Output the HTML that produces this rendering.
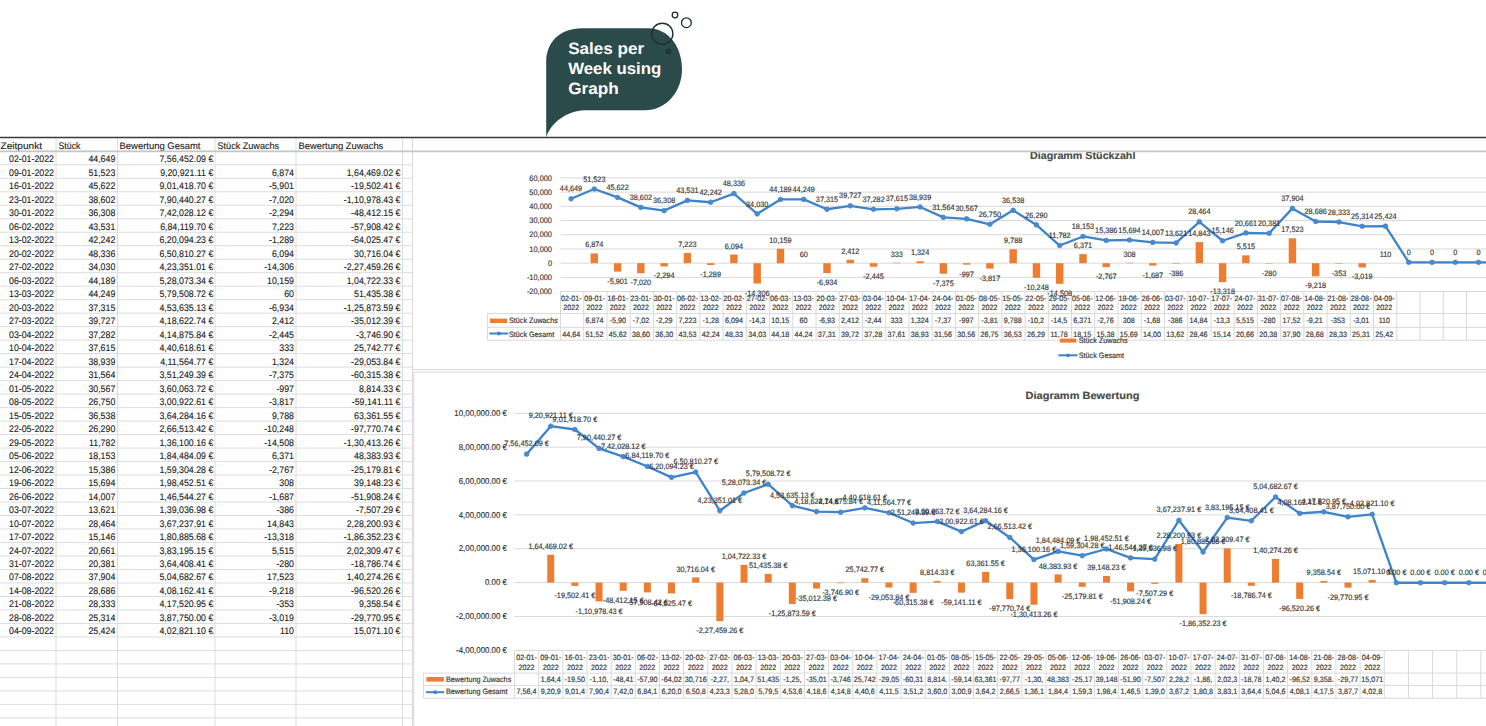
<!DOCTYPE html>
<html><head><meta charset="utf-8"><title>Sales per Week using Graph</title>
<style>
html,body{margin:0;padding:0;background:#fff;}
body{width:1486px;height:726px;overflow:hidden;}
svg{display:block;font-family:"Liberation Sans", sans-serif;text-rendering:geometricPrecision;}
</style></head><body>
<svg width="1486" height="726" viewBox="0 0 1486 726">
<rect x="0" y="0" width="1486" height="726" fill="#ffffff"/>
<line x1="0.00" y1="151.30" x2="412.50" y2="151.30" stroke="#dcdcdc" stroke-width="1.00"/>
<line x1="0.00" y1="164.79" x2="412.50" y2="164.79" stroke="#dcdcdc" stroke-width="1.00"/>
<line x1="0.00" y1="178.28" x2="412.50" y2="178.28" stroke="#dcdcdc" stroke-width="1.00"/>
<line x1="0.00" y1="191.77" x2="412.50" y2="191.77" stroke="#dcdcdc" stroke-width="1.00"/>
<line x1="0.00" y1="205.26" x2="412.50" y2="205.26" stroke="#dcdcdc" stroke-width="1.00"/>
<line x1="0.00" y1="218.75" x2="412.50" y2="218.75" stroke="#dcdcdc" stroke-width="1.00"/>
<line x1="0.00" y1="232.24" x2="412.50" y2="232.24" stroke="#dcdcdc" stroke-width="1.00"/>
<line x1="0.00" y1="245.73" x2="412.50" y2="245.73" stroke="#dcdcdc" stroke-width="1.00"/>
<line x1="0.00" y1="259.22" x2="412.50" y2="259.22" stroke="#dcdcdc" stroke-width="1.00"/>
<line x1="0.00" y1="272.71" x2="412.50" y2="272.71" stroke="#dcdcdc" stroke-width="1.00"/>
<line x1="0.00" y1="286.20" x2="412.50" y2="286.20" stroke="#dcdcdc" stroke-width="1.00"/>
<line x1="0.00" y1="299.69" x2="412.50" y2="299.69" stroke="#dcdcdc" stroke-width="1.00"/>
<line x1="0.00" y1="313.18" x2="412.50" y2="313.18" stroke="#dcdcdc" stroke-width="1.00"/>
<line x1="0.00" y1="326.67" x2="412.50" y2="326.67" stroke="#dcdcdc" stroke-width="1.00"/>
<line x1="0.00" y1="340.16" x2="412.50" y2="340.16" stroke="#dcdcdc" stroke-width="1.00"/>
<line x1="0.00" y1="353.65" x2="412.50" y2="353.65" stroke="#dcdcdc" stroke-width="1.00"/>
<line x1="0.00" y1="367.14" x2="412.50" y2="367.14" stroke="#dcdcdc" stroke-width="1.00"/>
<line x1="0.00" y1="380.63" x2="412.50" y2="380.63" stroke="#dcdcdc" stroke-width="1.00"/>
<line x1="0.00" y1="394.12" x2="412.50" y2="394.12" stroke="#dcdcdc" stroke-width="1.00"/>
<line x1="0.00" y1="407.61" x2="412.50" y2="407.61" stroke="#dcdcdc" stroke-width="1.00"/>
<line x1="0.00" y1="421.10" x2="412.50" y2="421.10" stroke="#dcdcdc" stroke-width="1.00"/>
<line x1="0.00" y1="434.59" x2="412.50" y2="434.59" stroke="#dcdcdc" stroke-width="1.00"/>
<line x1="0.00" y1="448.08" x2="412.50" y2="448.08" stroke="#dcdcdc" stroke-width="1.00"/>
<line x1="0.00" y1="461.57" x2="412.50" y2="461.57" stroke="#dcdcdc" stroke-width="1.00"/>
<line x1="0.00" y1="475.06" x2="412.50" y2="475.06" stroke="#dcdcdc" stroke-width="1.00"/>
<line x1="0.00" y1="488.55" x2="412.50" y2="488.55" stroke="#dcdcdc" stroke-width="1.00"/>
<line x1="0.00" y1="502.04" x2="412.50" y2="502.04" stroke="#dcdcdc" stroke-width="1.00"/>
<line x1="0.00" y1="515.53" x2="412.50" y2="515.53" stroke="#dcdcdc" stroke-width="1.00"/>
<line x1="0.00" y1="529.02" x2="412.50" y2="529.02" stroke="#dcdcdc" stroke-width="1.00"/>
<line x1="0.00" y1="542.51" x2="412.50" y2="542.51" stroke="#dcdcdc" stroke-width="1.00"/>
<line x1="0.00" y1="556.00" x2="412.50" y2="556.00" stroke="#dcdcdc" stroke-width="1.00"/>
<line x1="0.00" y1="569.49" x2="412.50" y2="569.49" stroke="#dcdcdc" stroke-width="1.00"/>
<line x1="0.00" y1="582.98" x2="412.50" y2="582.98" stroke="#dcdcdc" stroke-width="1.00"/>
<line x1="0.00" y1="596.47" x2="412.50" y2="596.47" stroke="#dcdcdc" stroke-width="1.00"/>
<line x1="0.00" y1="609.96" x2="412.50" y2="609.96" stroke="#dcdcdc" stroke-width="1.00"/>
<line x1="0.00" y1="623.45" x2="412.50" y2="623.45" stroke="#dcdcdc" stroke-width="1.00"/>
<line x1="0.00" y1="636.94" x2="412.50" y2="636.94" stroke="#dcdcdc" stroke-width="1.00"/>
<line x1="0.00" y1="650.43" x2="412.50" y2="650.43" stroke="#dcdcdc" stroke-width="1.00"/>
<line x1="0.00" y1="663.92" x2="412.50" y2="663.92" stroke="#dcdcdc" stroke-width="1.00"/>
<line x1="0.00" y1="677.41" x2="412.50" y2="677.41" stroke="#dcdcdc" stroke-width="1.00"/>
<line x1="0.00" y1="690.90" x2="412.50" y2="690.90" stroke="#dcdcdc" stroke-width="1.00"/>
<line x1="0.00" y1="704.39" x2="412.50" y2="704.39" stroke="#dcdcdc" stroke-width="1.00"/>
<line x1="0.00" y1="717.88" x2="412.50" y2="717.88" stroke="#dcdcdc" stroke-width="1.00"/>
<line x1="56.00" y1="137.50" x2="56.00" y2="726.00" stroke="#dcdcdc" stroke-width="1.00"/>
<line x1="117.50" y1="137.50" x2="117.50" y2="726.00" stroke="#dcdcdc" stroke-width="1.00"/>
<line x1="215.00" y1="137.50" x2="215.00" y2="726.00" stroke="#dcdcdc" stroke-width="1.00"/>
<line x1="296.00" y1="137.50" x2="296.00" y2="726.00" stroke="#dcdcdc" stroke-width="1.00"/>
<line x1="402.50" y1="137.50" x2="402.50" y2="726.00" stroke="#dcdcdc" stroke-width="1.00"/>
<line x1="412.50" y1="137.50" x2="412.50" y2="726.00" stroke="#dcdcdc" stroke-width="1.00"/>
<text x="0.50" y="148.60" font-size="9.50" fill="#1c1c1c" text-anchor="start" stroke="#1c1c1c" stroke-width="0.12" textLength="41.50" lengthAdjust="spacingAndGlyphs">Zeitpunkt</text>
<text x="58.50" y="148.60" font-size="9.50" fill="#1c1c1c" text-anchor="start" stroke="#1c1c1c" stroke-width="0.12" textLength="22.00" lengthAdjust="spacingAndGlyphs">Stück</text>
<text x="119.50" y="148.60" font-size="9.50" fill="#1c1c1c" text-anchor="start" stroke="#1c1c1c" stroke-width="0.12" textLength="81.00" lengthAdjust="spacingAndGlyphs">Bewertung Gesamt</text>
<text x="217.50" y="148.60" font-size="9.50" fill="#1c1c1c" text-anchor="start" stroke="#1c1c1c" stroke-width="0.12" textLength="61.60" lengthAdjust="spacingAndGlyphs">Stück Zuwachs</text>
<text x="298.50" y="148.60" font-size="9.50" fill="#1c1c1c" text-anchor="start" stroke="#1c1c1c" stroke-width="0.12" textLength="84.80" lengthAdjust="spacingAndGlyphs">Bewertung Zuwachs</text>
<text x="54.00" y="162.30" font-size="9.50" fill="#1c1c1c" text-anchor="end" stroke="#1c1c1c" stroke-width="0.12" textLength="45.01" lengthAdjust="spacingAndGlyphs">02-01-2022</text>
<text x="115.30" y="162.30" font-size="9.50" fill="#1c1c1c" text-anchor="end" stroke="#1c1c1c" stroke-width="0.12" textLength="26.92" lengthAdjust="spacingAndGlyphs">44,649</text>
<text x="213.30" y="162.30" font-size="9.50" fill="#1c1c1c" text-anchor="end" stroke="#1c1c1c" stroke-width="0.12" textLength="53.83" lengthAdjust="spacingAndGlyphs">7,56,452.09 €</text>
<text x="54.00" y="175.79" font-size="9.50" fill="#1c1c1c" text-anchor="end" stroke="#1c1c1c" stroke-width="0.12" textLength="45.01" lengthAdjust="spacingAndGlyphs">09-01-2022</text>
<text x="115.30" y="175.79" font-size="9.50" fill="#1c1c1c" text-anchor="end" stroke="#1c1c1c" stroke-width="0.12" textLength="26.92" lengthAdjust="spacingAndGlyphs">51,523</text>
<text x="213.30" y="175.79" font-size="9.50" fill="#1c1c1c" text-anchor="end" stroke="#1c1c1c" stroke-width="0.12" textLength="53.17" lengthAdjust="spacingAndGlyphs">9,20,921.11 €</text>
<text x="294.00" y="175.79" font-size="9.50" fill="#1c1c1c" text-anchor="end" stroke="#1c1c1c" stroke-width="0.12" textLength="22.02" lengthAdjust="spacingAndGlyphs">6,874</text>
<text x="400.50" y="175.79" font-size="9.50" fill="#1c1c1c" text-anchor="end" stroke="#1c1c1c" stroke-width="0.12" textLength="53.83" lengthAdjust="spacingAndGlyphs">1,64,469.02 €</text>
<text x="54.00" y="189.28" font-size="9.50" fill="#1c1c1c" text-anchor="end" stroke="#1c1c1c" stroke-width="0.12" textLength="45.01" lengthAdjust="spacingAndGlyphs">16-01-2022</text>
<text x="115.30" y="189.28" font-size="9.50" fill="#1c1c1c" text-anchor="end" stroke="#1c1c1c" stroke-width="0.12" textLength="26.92" lengthAdjust="spacingAndGlyphs">45,622</text>
<text x="213.30" y="189.28" font-size="9.50" fill="#1c1c1c" text-anchor="end" stroke="#1c1c1c" stroke-width="0.12" textLength="53.83" lengthAdjust="spacingAndGlyphs">9,01,418.70 €</text>
<text x="294.00" y="189.28" font-size="9.50" fill="#1c1c1c" text-anchor="end" stroke="#1c1c1c" stroke-width="0.12" textLength="24.95" lengthAdjust="spacingAndGlyphs">-5,901</text>
<text x="400.50" y="189.28" font-size="9.50" fill="#1c1c1c" text-anchor="end" stroke="#1c1c1c" stroke-width="0.12" textLength="49.42" lengthAdjust="spacingAndGlyphs">-19,502.41 €</text>
<text x="54.00" y="202.77" font-size="9.50" fill="#1c1c1c" text-anchor="end" stroke="#1c1c1c" stroke-width="0.12" textLength="45.01" lengthAdjust="spacingAndGlyphs">23-01-2022</text>
<text x="115.30" y="202.77" font-size="9.50" fill="#1c1c1c" text-anchor="end" stroke="#1c1c1c" stroke-width="0.12" textLength="26.92" lengthAdjust="spacingAndGlyphs">38,602</text>
<text x="213.30" y="202.77" font-size="9.50" fill="#1c1c1c" text-anchor="end" stroke="#1c1c1c" stroke-width="0.12" textLength="53.83" lengthAdjust="spacingAndGlyphs">7,90,440.27 €</text>
<text x="294.00" y="202.77" font-size="9.50" fill="#1c1c1c" text-anchor="end" stroke="#1c1c1c" stroke-width="0.12" textLength="24.95" lengthAdjust="spacingAndGlyphs">-7,020</text>
<text x="400.50" y="202.77" font-size="9.50" fill="#1c1c1c" text-anchor="end" stroke="#1c1c1c" stroke-width="0.12" textLength="56.76" lengthAdjust="spacingAndGlyphs">-1,10,978.43 €</text>
<text x="54.00" y="216.26" font-size="9.50" fill="#1c1c1c" text-anchor="end" stroke="#1c1c1c" stroke-width="0.12" textLength="45.01" lengthAdjust="spacingAndGlyphs">30-01-2022</text>
<text x="115.30" y="216.26" font-size="9.50" fill="#1c1c1c" text-anchor="end" stroke="#1c1c1c" stroke-width="0.12" textLength="26.92" lengthAdjust="spacingAndGlyphs">36,308</text>
<text x="213.30" y="216.26" font-size="9.50" fill="#1c1c1c" text-anchor="end" stroke="#1c1c1c" stroke-width="0.12" textLength="53.83" lengthAdjust="spacingAndGlyphs">7,42,028.12 €</text>
<text x="294.00" y="216.26" font-size="9.50" fill="#1c1c1c" text-anchor="end" stroke="#1c1c1c" stroke-width="0.12" textLength="24.95" lengthAdjust="spacingAndGlyphs">-2,294</text>
<text x="400.50" y="216.26" font-size="9.50" fill="#1c1c1c" text-anchor="end" stroke="#1c1c1c" stroke-width="0.12" textLength="49.42" lengthAdjust="spacingAndGlyphs">-48,412.15 €</text>
<text x="54.00" y="229.75" font-size="9.50" fill="#1c1c1c" text-anchor="end" stroke="#1c1c1c" stroke-width="0.12" textLength="45.01" lengthAdjust="spacingAndGlyphs">06-02-2022</text>
<text x="115.30" y="229.75" font-size="9.50" fill="#1c1c1c" text-anchor="end" stroke="#1c1c1c" stroke-width="0.12" textLength="26.92" lengthAdjust="spacingAndGlyphs">43,531</text>
<text x="213.30" y="229.75" font-size="9.50" fill="#1c1c1c" text-anchor="end" stroke="#1c1c1c" stroke-width="0.12" textLength="53.17" lengthAdjust="spacingAndGlyphs">6,84,119.70 €</text>
<text x="294.00" y="229.75" font-size="9.50" fill="#1c1c1c" text-anchor="end" stroke="#1c1c1c" stroke-width="0.12" textLength="22.02" lengthAdjust="spacingAndGlyphs">7,223</text>
<text x="400.50" y="229.75" font-size="9.50" fill="#1c1c1c" text-anchor="end" stroke="#1c1c1c" stroke-width="0.12" textLength="49.42" lengthAdjust="spacingAndGlyphs">-57,908.42 €</text>
<text x="54.00" y="243.24" font-size="9.50" fill="#1c1c1c" text-anchor="end" stroke="#1c1c1c" stroke-width="0.12" textLength="45.01" lengthAdjust="spacingAndGlyphs">13-02-2022</text>
<text x="115.30" y="243.24" font-size="9.50" fill="#1c1c1c" text-anchor="end" stroke="#1c1c1c" stroke-width="0.12" textLength="26.92" lengthAdjust="spacingAndGlyphs">42,242</text>
<text x="213.30" y="243.24" font-size="9.50" fill="#1c1c1c" text-anchor="end" stroke="#1c1c1c" stroke-width="0.12" textLength="53.83" lengthAdjust="spacingAndGlyphs">6,20,094.23 €</text>
<text x="294.00" y="243.24" font-size="9.50" fill="#1c1c1c" text-anchor="end" stroke="#1c1c1c" stroke-width="0.12" textLength="24.95" lengthAdjust="spacingAndGlyphs">-1,289</text>
<text x="400.50" y="243.24" font-size="9.50" fill="#1c1c1c" text-anchor="end" stroke="#1c1c1c" stroke-width="0.12" textLength="49.42" lengthAdjust="spacingAndGlyphs">-64,025.47 €</text>
<text x="54.00" y="256.73" font-size="9.50" fill="#1c1c1c" text-anchor="end" stroke="#1c1c1c" stroke-width="0.12" textLength="45.01" lengthAdjust="spacingAndGlyphs">20-02-2022</text>
<text x="115.30" y="256.73" font-size="9.50" fill="#1c1c1c" text-anchor="end" stroke="#1c1c1c" stroke-width="0.12" textLength="26.92" lengthAdjust="spacingAndGlyphs">48,336</text>
<text x="213.30" y="256.73" font-size="9.50" fill="#1c1c1c" text-anchor="end" stroke="#1c1c1c" stroke-width="0.12" textLength="53.83" lengthAdjust="spacingAndGlyphs">6,50,810.27 €</text>
<text x="294.00" y="256.73" font-size="9.50" fill="#1c1c1c" text-anchor="end" stroke="#1c1c1c" stroke-width="0.12" textLength="22.02" lengthAdjust="spacingAndGlyphs">6,094</text>
<text x="400.50" y="256.73" font-size="9.50" fill="#1c1c1c" text-anchor="end" stroke="#1c1c1c" stroke-width="0.12" textLength="46.49" lengthAdjust="spacingAndGlyphs">30,716.04 €</text>
<text x="54.00" y="270.22" font-size="9.50" fill="#1c1c1c" text-anchor="end" stroke="#1c1c1c" stroke-width="0.12" textLength="45.01" lengthAdjust="spacingAndGlyphs">27-02-2022</text>
<text x="115.30" y="270.22" font-size="9.50" fill="#1c1c1c" text-anchor="end" stroke="#1c1c1c" stroke-width="0.12" textLength="26.92" lengthAdjust="spacingAndGlyphs">34,030</text>
<text x="213.30" y="270.22" font-size="9.50" fill="#1c1c1c" text-anchor="end" stroke="#1c1c1c" stroke-width="0.12" textLength="53.83" lengthAdjust="spacingAndGlyphs">4,23,351.01 €</text>
<text x="294.00" y="270.22" font-size="9.50" fill="#1c1c1c" text-anchor="end" stroke="#1c1c1c" stroke-width="0.12" textLength="29.85" lengthAdjust="spacingAndGlyphs">-14,306</text>
<text x="400.50" y="270.22" font-size="9.50" fill="#1c1c1c" text-anchor="end" stroke="#1c1c1c" stroke-width="0.12" textLength="56.76" lengthAdjust="spacingAndGlyphs">-2,27,459.26 €</text>
<text x="54.00" y="283.71" font-size="9.50" fill="#1c1c1c" text-anchor="end" stroke="#1c1c1c" stroke-width="0.12" textLength="45.01" lengthAdjust="spacingAndGlyphs">06-03-2022</text>
<text x="115.30" y="283.71" font-size="9.50" fill="#1c1c1c" text-anchor="end" stroke="#1c1c1c" stroke-width="0.12" textLength="26.92" lengthAdjust="spacingAndGlyphs">44,189</text>
<text x="213.30" y="283.71" font-size="9.50" fill="#1c1c1c" text-anchor="end" stroke="#1c1c1c" stroke-width="0.12" textLength="53.83" lengthAdjust="spacingAndGlyphs">5,28,073.34 €</text>
<text x="294.00" y="283.71" font-size="9.50" fill="#1c1c1c" text-anchor="end" stroke="#1c1c1c" stroke-width="0.12" textLength="26.92" lengthAdjust="spacingAndGlyphs">10,159</text>
<text x="400.50" y="283.71" font-size="9.50" fill="#1c1c1c" text-anchor="end" stroke="#1c1c1c" stroke-width="0.12" textLength="53.83" lengthAdjust="spacingAndGlyphs">1,04,722.33 €</text>
<text x="54.00" y="297.20" font-size="9.50" fill="#1c1c1c" text-anchor="end" stroke="#1c1c1c" stroke-width="0.12" textLength="45.01" lengthAdjust="spacingAndGlyphs">13-03-2022</text>
<text x="115.30" y="297.20" font-size="9.50" fill="#1c1c1c" text-anchor="end" stroke="#1c1c1c" stroke-width="0.12" textLength="26.92" lengthAdjust="spacingAndGlyphs">44,249</text>
<text x="213.30" y="297.20" font-size="9.50" fill="#1c1c1c" text-anchor="end" stroke="#1c1c1c" stroke-width="0.12" textLength="53.83" lengthAdjust="spacingAndGlyphs">5,79,508.72 €</text>
<text x="294.00" y="297.20" font-size="9.50" fill="#1c1c1c" text-anchor="end" stroke="#1c1c1c" stroke-width="0.12" textLength="9.79" lengthAdjust="spacingAndGlyphs">60</text>
<text x="400.50" y="297.20" font-size="9.50" fill="#1c1c1c" text-anchor="end" stroke="#1c1c1c" stroke-width="0.12" textLength="46.49" lengthAdjust="spacingAndGlyphs">51,435.38 €</text>
<text x="54.00" y="310.69" font-size="9.50" fill="#1c1c1c" text-anchor="end" stroke="#1c1c1c" stroke-width="0.12" textLength="45.01" lengthAdjust="spacingAndGlyphs">20-03-2022</text>
<text x="115.30" y="310.69" font-size="9.50" fill="#1c1c1c" text-anchor="end" stroke="#1c1c1c" stroke-width="0.12" textLength="26.92" lengthAdjust="spacingAndGlyphs">37,315</text>
<text x="213.30" y="310.69" font-size="9.50" fill="#1c1c1c" text-anchor="end" stroke="#1c1c1c" stroke-width="0.12" textLength="53.83" lengthAdjust="spacingAndGlyphs">4,53,635.13 €</text>
<text x="294.00" y="310.69" font-size="9.50" fill="#1c1c1c" text-anchor="end" stroke="#1c1c1c" stroke-width="0.12" textLength="24.95" lengthAdjust="spacingAndGlyphs">-6,934</text>
<text x="400.50" y="310.69" font-size="9.50" fill="#1c1c1c" text-anchor="end" stroke="#1c1c1c" stroke-width="0.12" textLength="56.76" lengthAdjust="spacingAndGlyphs">-1,25,873.59 €</text>
<text x="54.00" y="324.18" font-size="9.50" fill="#1c1c1c" text-anchor="end" stroke="#1c1c1c" stroke-width="0.12" textLength="45.01" lengthAdjust="spacingAndGlyphs">27-03-2022</text>
<text x="115.30" y="324.18" font-size="9.50" fill="#1c1c1c" text-anchor="end" stroke="#1c1c1c" stroke-width="0.12" textLength="26.92" lengthAdjust="spacingAndGlyphs">39,727</text>
<text x="213.30" y="324.18" font-size="9.50" fill="#1c1c1c" text-anchor="end" stroke="#1c1c1c" stroke-width="0.12" textLength="53.83" lengthAdjust="spacingAndGlyphs">4,18,622.74 €</text>
<text x="294.00" y="324.18" font-size="9.50" fill="#1c1c1c" text-anchor="end" stroke="#1c1c1c" stroke-width="0.12" textLength="22.02" lengthAdjust="spacingAndGlyphs">2,412</text>
<text x="400.50" y="324.18" font-size="9.50" fill="#1c1c1c" text-anchor="end" stroke="#1c1c1c" stroke-width="0.12" textLength="49.42" lengthAdjust="spacingAndGlyphs">-35,012.39 €</text>
<text x="54.00" y="337.67" font-size="9.50" fill="#1c1c1c" text-anchor="end" stroke="#1c1c1c" stroke-width="0.12" textLength="45.01" lengthAdjust="spacingAndGlyphs">03-04-2022</text>
<text x="115.30" y="337.67" font-size="9.50" fill="#1c1c1c" text-anchor="end" stroke="#1c1c1c" stroke-width="0.12" textLength="26.92" lengthAdjust="spacingAndGlyphs">37,282</text>
<text x="213.30" y="337.67" font-size="9.50" fill="#1c1c1c" text-anchor="end" stroke="#1c1c1c" stroke-width="0.12" textLength="53.83" lengthAdjust="spacingAndGlyphs">4,14,875.84 €</text>
<text x="294.00" y="337.67" font-size="9.50" fill="#1c1c1c" text-anchor="end" stroke="#1c1c1c" stroke-width="0.12" textLength="24.95" lengthAdjust="spacingAndGlyphs">-2,445</text>
<text x="400.50" y="337.67" font-size="9.50" fill="#1c1c1c" text-anchor="end" stroke="#1c1c1c" stroke-width="0.12" textLength="44.52" lengthAdjust="spacingAndGlyphs">-3,746.90 €</text>
<text x="54.00" y="351.16" font-size="9.50" fill="#1c1c1c" text-anchor="end" stroke="#1c1c1c" stroke-width="0.12" textLength="45.01" lengthAdjust="spacingAndGlyphs">10-04-2022</text>
<text x="115.30" y="351.16" font-size="9.50" fill="#1c1c1c" text-anchor="end" stroke="#1c1c1c" stroke-width="0.12" textLength="26.92" lengthAdjust="spacingAndGlyphs">37,615</text>
<text x="213.30" y="351.16" font-size="9.50" fill="#1c1c1c" text-anchor="end" stroke="#1c1c1c" stroke-width="0.12" textLength="53.83" lengthAdjust="spacingAndGlyphs">4,40,618.61 €</text>
<text x="294.00" y="351.16" font-size="9.50" fill="#1c1c1c" text-anchor="end" stroke="#1c1c1c" stroke-width="0.12" textLength="14.68" lengthAdjust="spacingAndGlyphs">333</text>
<text x="400.50" y="351.16" font-size="9.50" fill="#1c1c1c" text-anchor="end" stroke="#1c1c1c" stroke-width="0.12" textLength="46.49" lengthAdjust="spacingAndGlyphs">25,742.77 €</text>
<text x="54.00" y="364.65" font-size="9.50" fill="#1c1c1c" text-anchor="end" stroke="#1c1c1c" stroke-width="0.12" textLength="45.01" lengthAdjust="spacingAndGlyphs">17-04-2022</text>
<text x="115.30" y="364.65" font-size="9.50" fill="#1c1c1c" text-anchor="end" stroke="#1c1c1c" stroke-width="0.12" textLength="26.92" lengthAdjust="spacingAndGlyphs">38,939</text>
<text x="213.30" y="364.65" font-size="9.50" fill="#1c1c1c" text-anchor="end" stroke="#1c1c1c" stroke-width="0.12" textLength="53.17" lengthAdjust="spacingAndGlyphs">4,11,564.77 €</text>
<text x="294.00" y="364.65" font-size="9.50" fill="#1c1c1c" text-anchor="end" stroke="#1c1c1c" stroke-width="0.12" textLength="22.02" lengthAdjust="spacingAndGlyphs">1,324</text>
<text x="400.50" y="364.65" font-size="9.50" fill="#1c1c1c" text-anchor="end" stroke="#1c1c1c" stroke-width="0.12" textLength="49.42" lengthAdjust="spacingAndGlyphs">-29,053.84 €</text>
<text x="54.00" y="378.14" font-size="9.50" fill="#1c1c1c" text-anchor="end" stroke="#1c1c1c" stroke-width="0.12" textLength="45.01" lengthAdjust="spacingAndGlyphs">24-04-2022</text>
<text x="115.30" y="378.14" font-size="9.50" fill="#1c1c1c" text-anchor="end" stroke="#1c1c1c" stroke-width="0.12" textLength="26.92" lengthAdjust="spacingAndGlyphs">31,564</text>
<text x="213.30" y="378.14" font-size="9.50" fill="#1c1c1c" text-anchor="end" stroke="#1c1c1c" stroke-width="0.12" textLength="53.83" lengthAdjust="spacingAndGlyphs">3,51,249.39 €</text>
<text x="294.00" y="378.14" font-size="9.50" fill="#1c1c1c" text-anchor="end" stroke="#1c1c1c" stroke-width="0.12" textLength="24.95" lengthAdjust="spacingAndGlyphs">-7,375</text>
<text x="400.50" y="378.14" font-size="9.50" fill="#1c1c1c" text-anchor="end" stroke="#1c1c1c" stroke-width="0.12" textLength="49.42" lengthAdjust="spacingAndGlyphs">-60,315.38 €</text>
<text x="54.00" y="391.63" font-size="9.50" fill="#1c1c1c" text-anchor="end" stroke="#1c1c1c" stroke-width="0.12" textLength="45.01" lengthAdjust="spacingAndGlyphs">01-05-2022</text>
<text x="115.30" y="391.63" font-size="9.50" fill="#1c1c1c" text-anchor="end" stroke="#1c1c1c" stroke-width="0.12" textLength="26.92" lengthAdjust="spacingAndGlyphs">30,567</text>
<text x="213.30" y="391.63" font-size="9.50" fill="#1c1c1c" text-anchor="end" stroke="#1c1c1c" stroke-width="0.12" textLength="53.83" lengthAdjust="spacingAndGlyphs">3,60,063.72 €</text>
<text x="294.00" y="391.63" font-size="9.50" fill="#1c1c1c" text-anchor="end" stroke="#1c1c1c" stroke-width="0.12" textLength="17.61" lengthAdjust="spacingAndGlyphs">-997</text>
<text x="400.50" y="391.63" font-size="9.50" fill="#1c1c1c" text-anchor="end" stroke="#1c1c1c" stroke-width="0.12" textLength="41.59" lengthAdjust="spacingAndGlyphs">8,814.33 €</text>
<text x="54.00" y="405.12" font-size="9.50" fill="#1c1c1c" text-anchor="end" stroke="#1c1c1c" stroke-width="0.12" textLength="45.01" lengthAdjust="spacingAndGlyphs">08-05-2022</text>
<text x="115.30" y="405.12" font-size="9.50" fill="#1c1c1c" text-anchor="end" stroke="#1c1c1c" stroke-width="0.12" textLength="26.92" lengthAdjust="spacingAndGlyphs">26,750</text>
<text x="213.30" y="405.12" font-size="9.50" fill="#1c1c1c" text-anchor="end" stroke="#1c1c1c" stroke-width="0.12" textLength="53.83" lengthAdjust="spacingAndGlyphs">3,00,922.61 €</text>
<text x="294.00" y="405.12" font-size="9.50" fill="#1c1c1c" text-anchor="end" stroke="#1c1c1c" stroke-width="0.12" textLength="24.95" lengthAdjust="spacingAndGlyphs">-3,817</text>
<text x="400.50" y="405.12" font-size="9.50" fill="#1c1c1c" text-anchor="end" stroke="#1c1c1c" stroke-width="0.12" textLength="48.77" lengthAdjust="spacingAndGlyphs">-59,141.11 €</text>
<text x="54.00" y="418.61" font-size="9.50" fill="#1c1c1c" text-anchor="end" stroke="#1c1c1c" stroke-width="0.12" textLength="45.01" lengthAdjust="spacingAndGlyphs">15-05-2022</text>
<text x="115.30" y="418.61" font-size="9.50" fill="#1c1c1c" text-anchor="end" stroke="#1c1c1c" stroke-width="0.12" textLength="26.92" lengthAdjust="spacingAndGlyphs">36,538</text>
<text x="213.30" y="418.61" font-size="9.50" fill="#1c1c1c" text-anchor="end" stroke="#1c1c1c" stroke-width="0.12" textLength="53.83" lengthAdjust="spacingAndGlyphs">3,64,284.16 €</text>
<text x="294.00" y="418.61" font-size="9.50" fill="#1c1c1c" text-anchor="end" stroke="#1c1c1c" stroke-width="0.12" textLength="22.02" lengthAdjust="spacingAndGlyphs">9,788</text>
<text x="400.50" y="418.61" font-size="9.50" fill="#1c1c1c" text-anchor="end" stroke="#1c1c1c" stroke-width="0.12" textLength="46.49" lengthAdjust="spacingAndGlyphs">63,361.55 €</text>
<text x="54.00" y="432.10" font-size="9.50" fill="#1c1c1c" text-anchor="end" stroke="#1c1c1c" stroke-width="0.12" textLength="45.01" lengthAdjust="spacingAndGlyphs">22-05-2022</text>
<text x="115.30" y="432.10" font-size="9.50" fill="#1c1c1c" text-anchor="end" stroke="#1c1c1c" stroke-width="0.12" textLength="26.92" lengthAdjust="spacingAndGlyphs">26,290</text>
<text x="213.30" y="432.10" font-size="9.50" fill="#1c1c1c" text-anchor="end" stroke="#1c1c1c" stroke-width="0.12" textLength="53.83" lengthAdjust="spacingAndGlyphs">2,66,513.42 €</text>
<text x="294.00" y="432.10" font-size="9.50" fill="#1c1c1c" text-anchor="end" stroke="#1c1c1c" stroke-width="0.12" textLength="29.85" lengthAdjust="spacingAndGlyphs">-10,248</text>
<text x="400.50" y="432.10" font-size="9.50" fill="#1c1c1c" text-anchor="end" stroke="#1c1c1c" stroke-width="0.12" textLength="49.42" lengthAdjust="spacingAndGlyphs">-97,770.74 €</text>
<text x="54.00" y="445.59" font-size="9.50" fill="#1c1c1c" text-anchor="end" stroke="#1c1c1c" stroke-width="0.12" textLength="45.01" lengthAdjust="spacingAndGlyphs">29-05-2022</text>
<text x="115.30" y="445.59" font-size="9.50" fill="#1c1c1c" text-anchor="end" stroke="#1c1c1c" stroke-width="0.12" textLength="26.26" lengthAdjust="spacingAndGlyphs">11,782</text>
<text x="213.30" y="445.59" font-size="9.50" fill="#1c1c1c" text-anchor="end" stroke="#1c1c1c" stroke-width="0.12" textLength="53.83" lengthAdjust="spacingAndGlyphs">1,36,100.16 €</text>
<text x="294.00" y="445.59" font-size="9.50" fill="#1c1c1c" text-anchor="end" stroke="#1c1c1c" stroke-width="0.12" textLength="29.85" lengthAdjust="spacingAndGlyphs">-14,508</text>
<text x="400.50" y="445.59" font-size="9.50" fill="#1c1c1c" text-anchor="end" stroke="#1c1c1c" stroke-width="0.12" textLength="56.76" lengthAdjust="spacingAndGlyphs">-1,30,413.26 €</text>
<text x="54.00" y="459.08" font-size="9.50" fill="#1c1c1c" text-anchor="end" stroke="#1c1c1c" stroke-width="0.12" textLength="45.01" lengthAdjust="spacingAndGlyphs">05-06-2022</text>
<text x="115.30" y="459.08" font-size="9.50" fill="#1c1c1c" text-anchor="end" stroke="#1c1c1c" stroke-width="0.12" textLength="26.92" lengthAdjust="spacingAndGlyphs">18,153</text>
<text x="213.30" y="459.08" font-size="9.50" fill="#1c1c1c" text-anchor="end" stroke="#1c1c1c" stroke-width="0.12" textLength="53.83" lengthAdjust="spacingAndGlyphs">1,84,484.09 €</text>
<text x="294.00" y="459.08" font-size="9.50" fill="#1c1c1c" text-anchor="end" stroke="#1c1c1c" stroke-width="0.12" textLength="22.02" lengthAdjust="spacingAndGlyphs">6,371</text>
<text x="400.50" y="459.08" font-size="9.50" fill="#1c1c1c" text-anchor="end" stroke="#1c1c1c" stroke-width="0.12" textLength="46.49" lengthAdjust="spacingAndGlyphs">48,383.93 €</text>
<text x="54.00" y="472.57" font-size="9.50" fill="#1c1c1c" text-anchor="end" stroke="#1c1c1c" stroke-width="0.12" textLength="45.01" lengthAdjust="spacingAndGlyphs">12-06-2022</text>
<text x="115.30" y="472.57" font-size="9.50" fill="#1c1c1c" text-anchor="end" stroke="#1c1c1c" stroke-width="0.12" textLength="26.92" lengthAdjust="spacingAndGlyphs">15,386</text>
<text x="213.30" y="472.57" font-size="9.50" fill="#1c1c1c" text-anchor="end" stroke="#1c1c1c" stroke-width="0.12" textLength="53.83" lengthAdjust="spacingAndGlyphs">1,59,304.28 €</text>
<text x="294.00" y="472.57" font-size="9.50" fill="#1c1c1c" text-anchor="end" stroke="#1c1c1c" stroke-width="0.12" textLength="24.95" lengthAdjust="spacingAndGlyphs">-2,767</text>
<text x="400.50" y="472.57" font-size="9.50" fill="#1c1c1c" text-anchor="end" stroke="#1c1c1c" stroke-width="0.12" textLength="49.42" lengthAdjust="spacingAndGlyphs">-25,179.81 €</text>
<text x="54.00" y="486.06" font-size="9.50" fill="#1c1c1c" text-anchor="end" stroke="#1c1c1c" stroke-width="0.12" textLength="45.01" lengthAdjust="spacingAndGlyphs">19-06-2022</text>
<text x="115.30" y="486.06" font-size="9.50" fill="#1c1c1c" text-anchor="end" stroke="#1c1c1c" stroke-width="0.12" textLength="26.92" lengthAdjust="spacingAndGlyphs">15,694</text>
<text x="213.30" y="486.06" font-size="9.50" fill="#1c1c1c" text-anchor="end" stroke="#1c1c1c" stroke-width="0.12" textLength="53.83" lengthAdjust="spacingAndGlyphs">1,98,452.51 €</text>
<text x="294.00" y="486.06" font-size="9.50" fill="#1c1c1c" text-anchor="end" stroke="#1c1c1c" stroke-width="0.12" textLength="14.68" lengthAdjust="spacingAndGlyphs">308</text>
<text x="400.50" y="486.06" font-size="9.50" fill="#1c1c1c" text-anchor="end" stroke="#1c1c1c" stroke-width="0.12" textLength="46.49" lengthAdjust="spacingAndGlyphs">39,148.23 €</text>
<text x="54.00" y="499.55" font-size="9.50" fill="#1c1c1c" text-anchor="end" stroke="#1c1c1c" stroke-width="0.12" textLength="45.01" lengthAdjust="spacingAndGlyphs">26-06-2022</text>
<text x="115.30" y="499.55" font-size="9.50" fill="#1c1c1c" text-anchor="end" stroke="#1c1c1c" stroke-width="0.12" textLength="26.92" lengthAdjust="spacingAndGlyphs">14,007</text>
<text x="213.30" y="499.55" font-size="9.50" fill="#1c1c1c" text-anchor="end" stroke="#1c1c1c" stroke-width="0.12" textLength="53.83" lengthAdjust="spacingAndGlyphs">1,46,544.27 €</text>
<text x="294.00" y="499.55" font-size="9.50" fill="#1c1c1c" text-anchor="end" stroke="#1c1c1c" stroke-width="0.12" textLength="24.95" lengthAdjust="spacingAndGlyphs">-1,687</text>
<text x="400.50" y="499.55" font-size="9.50" fill="#1c1c1c" text-anchor="end" stroke="#1c1c1c" stroke-width="0.12" textLength="49.42" lengthAdjust="spacingAndGlyphs">-51,908.24 €</text>
<text x="54.00" y="513.04" font-size="9.50" fill="#1c1c1c" text-anchor="end" stroke="#1c1c1c" stroke-width="0.12" textLength="45.01" lengthAdjust="spacingAndGlyphs">03-07-2022</text>
<text x="115.30" y="513.04" font-size="9.50" fill="#1c1c1c" text-anchor="end" stroke="#1c1c1c" stroke-width="0.12" textLength="26.92" lengthAdjust="spacingAndGlyphs">13,621</text>
<text x="213.30" y="513.04" font-size="9.50" fill="#1c1c1c" text-anchor="end" stroke="#1c1c1c" stroke-width="0.12" textLength="53.83" lengthAdjust="spacingAndGlyphs">1,39,036.98 €</text>
<text x="294.00" y="513.04" font-size="9.50" fill="#1c1c1c" text-anchor="end" stroke="#1c1c1c" stroke-width="0.12" textLength="17.61" lengthAdjust="spacingAndGlyphs">-386</text>
<text x="400.50" y="513.04" font-size="9.50" fill="#1c1c1c" text-anchor="end" stroke="#1c1c1c" stroke-width="0.12" textLength="44.52" lengthAdjust="spacingAndGlyphs">-7,507.29 €</text>
<text x="54.00" y="526.53" font-size="9.50" fill="#1c1c1c" text-anchor="end" stroke="#1c1c1c" stroke-width="0.12" textLength="45.01" lengthAdjust="spacingAndGlyphs">10-07-2022</text>
<text x="115.30" y="526.53" font-size="9.50" fill="#1c1c1c" text-anchor="end" stroke="#1c1c1c" stroke-width="0.12" textLength="26.92" lengthAdjust="spacingAndGlyphs">28,464</text>
<text x="213.30" y="526.53" font-size="9.50" fill="#1c1c1c" text-anchor="end" stroke="#1c1c1c" stroke-width="0.12" textLength="53.83" lengthAdjust="spacingAndGlyphs">3,67,237.91 €</text>
<text x="294.00" y="526.53" font-size="9.50" fill="#1c1c1c" text-anchor="end" stroke="#1c1c1c" stroke-width="0.12" textLength="26.92" lengthAdjust="spacingAndGlyphs">14,843</text>
<text x="400.50" y="526.53" font-size="9.50" fill="#1c1c1c" text-anchor="end" stroke="#1c1c1c" stroke-width="0.12" textLength="53.83" lengthAdjust="spacingAndGlyphs">2,28,200.93 €</text>
<text x="54.00" y="540.02" font-size="9.50" fill="#1c1c1c" text-anchor="end" stroke="#1c1c1c" stroke-width="0.12" textLength="45.01" lengthAdjust="spacingAndGlyphs">17-07-2022</text>
<text x="115.30" y="540.02" font-size="9.50" fill="#1c1c1c" text-anchor="end" stroke="#1c1c1c" stroke-width="0.12" textLength="26.92" lengthAdjust="spacingAndGlyphs">15,146</text>
<text x="213.30" y="540.02" font-size="9.50" fill="#1c1c1c" text-anchor="end" stroke="#1c1c1c" stroke-width="0.12" textLength="53.83" lengthAdjust="spacingAndGlyphs">1,80,885.68 €</text>
<text x="294.00" y="540.02" font-size="9.50" fill="#1c1c1c" text-anchor="end" stroke="#1c1c1c" stroke-width="0.12" textLength="29.85" lengthAdjust="spacingAndGlyphs">-13,318</text>
<text x="400.50" y="540.02" font-size="9.50" fill="#1c1c1c" text-anchor="end" stroke="#1c1c1c" stroke-width="0.12" textLength="56.76" lengthAdjust="spacingAndGlyphs">-1,86,352.23 €</text>
<text x="54.00" y="553.51" font-size="9.50" fill="#1c1c1c" text-anchor="end" stroke="#1c1c1c" stroke-width="0.12" textLength="45.01" lengthAdjust="spacingAndGlyphs">24-07-2022</text>
<text x="115.30" y="553.51" font-size="9.50" fill="#1c1c1c" text-anchor="end" stroke="#1c1c1c" stroke-width="0.12" textLength="26.92" lengthAdjust="spacingAndGlyphs">20,661</text>
<text x="213.30" y="553.51" font-size="9.50" fill="#1c1c1c" text-anchor="end" stroke="#1c1c1c" stroke-width="0.12" textLength="53.83" lengthAdjust="spacingAndGlyphs">3,83,195.15 €</text>
<text x="294.00" y="553.51" font-size="9.50" fill="#1c1c1c" text-anchor="end" stroke="#1c1c1c" stroke-width="0.12" textLength="22.02" lengthAdjust="spacingAndGlyphs">5,515</text>
<text x="400.50" y="553.51" font-size="9.50" fill="#1c1c1c" text-anchor="end" stroke="#1c1c1c" stroke-width="0.12" textLength="53.83" lengthAdjust="spacingAndGlyphs">2,02,309.47 €</text>
<text x="54.00" y="567.00" font-size="9.50" fill="#1c1c1c" text-anchor="end" stroke="#1c1c1c" stroke-width="0.12" textLength="45.01" lengthAdjust="spacingAndGlyphs">31-07-2022</text>
<text x="115.30" y="567.00" font-size="9.50" fill="#1c1c1c" text-anchor="end" stroke="#1c1c1c" stroke-width="0.12" textLength="26.92" lengthAdjust="spacingAndGlyphs">20,381</text>
<text x="213.30" y="567.00" font-size="9.50" fill="#1c1c1c" text-anchor="end" stroke="#1c1c1c" stroke-width="0.12" textLength="53.83" lengthAdjust="spacingAndGlyphs">3,64,408.41 €</text>
<text x="294.00" y="567.00" font-size="9.50" fill="#1c1c1c" text-anchor="end" stroke="#1c1c1c" stroke-width="0.12" textLength="17.61" lengthAdjust="spacingAndGlyphs">-280</text>
<text x="400.50" y="567.00" font-size="9.50" fill="#1c1c1c" text-anchor="end" stroke="#1c1c1c" stroke-width="0.12" textLength="49.42" lengthAdjust="spacingAndGlyphs">-18,786.74 €</text>
<text x="54.00" y="580.49" font-size="9.50" fill="#1c1c1c" text-anchor="end" stroke="#1c1c1c" stroke-width="0.12" textLength="45.01" lengthAdjust="spacingAndGlyphs">07-08-2022</text>
<text x="115.30" y="580.49" font-size="9.50" fill="#1c1c1c" text-anchor="end" stroke="#1c1c1c" stroke-width="0.12" textLength="26.92" lengthAdjust="spacingAndGlyphs">37,904</text>
<text x="213.30" y="580.49" font-size="9.50" fill="#1c1c1c" text-anchor="end" stroke="#1c1c1c" stroke-width="0.12" textLength="53.83" lengthAdjust="spacingAndGlyphs">5,04,682.67 €</text>
<text x="294.00" y="580.49" font-size="9.50" fill="#1c1c1c" text-anchor="end" stroke="#1c1c1c" stroke-width="0.12" textLength="26.92" lengthAdjust="spacingAndGlyphs">17,523</text>
<text x="400.50" y="580.49" font-size="9.50" fill="#1c1c1c" text-anchor="end" stroke="#1c1c1c" stroke-width="0.12" textLength="53.83" lengthAdjust="spacingAndGlyphs">1,40,274.26 €</text>
<text x="54.00" y="593.98" font-size="9.50" fill="#1c1c1c" text-anchor="end" stroke="#1c1c1c" stroke-width="0.12" textLength="45.01" lengthAdjust="spacingAndGlyphs">14-08-2022</text>
<text x="115.30" y="593.98" font-size="9.50" fill="#1c1c1c" text-anchor="end" stroke="#1c1c1c" stroke-width="0.12" textLength="26.92" lengthAdjust="spacingAndGlyphs">28,686</text>
<text x="213.30" y="593.98" font-size="9.50" fill="#1c1c1c" text-anchor="end" stroke="#1c1c1c" stroke-width="0.12" textLength="53.83" lengthAdjust="spacingAndGlyphs">4,08,162.41 €</text>
<text x="294.00" y="593.98" font-size="9.50" fill="#1c1c1c" text-anchor="end" stroke="#1c1c1c" stroke-width="0.12" textLength="24.95" lengthAdjust="spacingAndGlyphs">-9,218</text>
<text x="400.50" y="593.98" font-size="9.50" fill="#1c1c1c" text-anchor="end" stroke="#1c1c1c" stroke-width="0.12" textLength="49.42" lengthAdjust="spacingAndGlyphs">-96,520.26 €</text>
<text x="54.00" y="607.47" font-size="9.50" fill="#1c1c1c" text-anchor="end" stroke="#1c1c1c" stroke-width="0.12" textLength="45.01" lengthAdjust="spacingAndGlyphs">21-08-2022</text>
<text x="115.30" y="607.47" font-size="9.50" fill="#1c1c1c" text-anchor="end" stroke="#1c1c1c" stroke-width="0.12" textLength="26.92" lengthAdjust="spacingAndGlyphs">28,333</text>
<text x="213.30" y="607.47" font-size="9.50" fill="#1c1c1c" text-anchor="end" stroke="#1c1c1c" stroke-width="0.12" textLength="53.83" lengthAdjust="spacingAndGlyphs">4,17,520.95 €</text>
<text x="294.00" y="607.47" font-size="9.50" fill="#1c1c1c" text-anchor="end" stroke="#1c1c1c" stroke-width="0.12" textLength="17.61" lengthAdjust="spacingAndGlyphs">-353</text>
<text x="400.50" y="607.47" font-size="9.50" fill="#1c1c1c" text-anchor="end" stroke="#1c1c1c" stroke-width="0.12" textLength="41.59" lengthAdjust="spacingAndGlyphs">9,358.54 €</text>
<text x="54.00" y="620.96" font-size="9.50" fill="#1c1c1c" text-anchor="end" stroke="#1c1c1c" stroke-width="0.12" textLength="45.01" lengthAdjust="spacingAndGlyphs">28-08-2022</text>
<text x="115.30" y="620.96" font-size="9.50" fill="#1c1c1c" text-anchor="end" stroke="#1c1c1c" stroke-width="0.12" textLength="26.92" lengthAdjust="spacingAndGlyphs">25,314</text>
<text x="213.30" y="620.96" font-size="9.50" fill="#1c1c1c" text-anchor="end" stroke="#1c1c1c" stroke-width="0.12" textLength="53.83" lengthAdjust="spacingAndGlyphs">3,87,750.00 €</text>
<text x="294.00" y="620.96" font-size="9.50" fill="#1c1c1c" text-anchor="end" stroke="#1c1c1c" stroke-width="0.12" textLength="24.95" lengthAdjust="spacingAndGlyphs">-3,019</text>
<text x="400.50" y="620.96" font-size="9.50" fill="#1c1c1c" text-anchor="end" stroke="#1c1c1c" stroke-width="0.12" textLength="49.42" lengthAdjust="spacingAndGlyphs">-29,770.95 €</text>
<text x="54.00" y="634.45" font-size="9.50" fill="#1c1c1c" text-anchor="end" stroke="#1c1c1c" stroke-width="0.12" textLength="45.01" lengthAdjust="spacingAndGlyphs">04-09-2022</text>
<text x="115.30" y="634.45" font-size="9.50" fill="#1c1c1c" text-anchor="end" stroke="#1c1c1c" stroke-width="0.12" textLength="26.92" lengthAdjust="spacingAndGlyphs">25,424</text>
<text x="213.30" y="634.45" font-size="9.50" fill="#1c1c1c" text-anchor="end" stroke="#1c1c1c" stroke-width="0.12" textLength="53.83" lengthAdjust="spacingAndGlyphs">4,02,821.10 €</text>
<text x="294.00" y="634.45" font-size="9.50" fill="#1c1c1c" text-anchor="end" stroke="#1c1c1c" stroke-width="0.12" textLength="14.03" lengthAdjust="spacingAndGlyphs">110</text>
<text x="400.50" y="634.45" font-size="9.50" fill="#1c1c1c" text-anchor="end" stroke="#1c1c1c" stroke-width="0.12" textLength="46.49" lengthAdjust="spacingAndGlyphs">15,071.10 €</text>
<rect x="412.50" y="138.20" width="1073.50" height="231.30" fill="#ffffff"/>
<rect x="413.70" y="372.00" width="1072.30" height="354.00" fill="#ffffff"/>
<line x1="412.50" y1="138.00" x2="412.50" y2="369.50" stroke="#d9d9d9" stroke-width="1.00"/>
<line x1="412.50" y1="369.50" x2="1486.00" y2="369.50" stroke="#d9d9d9" stroke-width="1.00"/>
<line x1="413.70" y1="372.00" x2="413.70" y2="726.00" stroke="#d9d9d9" stroke-width="1.00"/>
<line x1="413.70" y1="372.00" x2="1486.00" y2="372.00" stroke="#d9d9d9" stroke-width="1.00"/>
<line x1="560.50" y1="177.88" x2="1486.00" y2="177.88" stroke="#d9d9d9" stroke-width="1.00"/>
<line x1="560.50" y1="192.10" x2="1486.00" y2="192.10" stroke="#d9d9d9" stroke-width="1.00"/>
<line x1="560.50" y1="206.32" x2="1486.00" y2="206.32" stroke="#d9d9d9" stroke-width="1.00"/>
<line x1="560.50" y1="220.54" x2="1486.00" y2="220.54" stroke="#d9d9d9" stroke-width="1.00"/>
<line x1="560.50" y1="234.76" x2="1486.00" y2="234.76" stroke="#d9d9d9" stroke-width="1.00"/>
<line x1="560.50" y1="248.98" x2="1486.00" y2="248.98" stroke="#d9d9d9" stroke-width="1.00"/>
<line x1="560.50" y1="263.20" x2="1486.00" y2="263.20" stroke="#d9d9d9" stroke-width="1.00"/>
<line x1="560.50" y1="277.42" x2="1486.00" y2="277.42" stroke="#d9d9d9" stroke-width="1.00"/>
<line x1="560.50" y1="291.50" x2="1486.00" y2="291.50" stroke="#d9d9d9" stroke-width="1.00"/>
<line x1="487.40" y1="313.60" x2="1486.00" y2="313.60" stroke="#d9d9d9" stroke-width="1.00"/>
<line x1="487.40" y1="327.30" x2="1486.00" y2="327.30" stroke="#d9d9d9" stroke-width="1.00"/>
<line x1="487.40" y1="340.20" x2="1486.00" y2="340.20" stroke="#d9d9d9" stroke-width="1.00"/>
<line x1="487.40" y1="313.60" x2="487.40" y2="340.20" stroke="#d9d9d9" stroke-width="1.00"/>
<line x1="560.50" y1="291.50" x2="560.50" y2="340.20" stroke="#d9d9d9" stroke-width="1.00"/>
<line x1="583.73" y1="291.50" x2="583.73" y2="340.20" stroke="#d9d9d9" stroke-width="1.00"/>
<line x1="606.96" y1="291.50" x2="606.96" y2="340.20" stroke="#d9d9d9" stroke-width="1.00"/>
<line x1="630.19" y1="291.50" x2="630.19" y2="340.20" stroke="#d9d9d9" stroke-width="1.00"/>
<line x1="653.42" y1="291.50" x2="653.42" y2="340.20" stroke="#d9d9d9" stroke-width="1.00"/>
<line x1="676.65" y1="291.50" x2="676.65" y2="340.20" stroke="#d9d9d9" stroke-width="1.00"/>
<line x1="699.88" y1="291.50" x2="699.88" y2="340.20" stroke="#d9d9d9" stroke-width="1.00"/>
<line x1="723.11" y1="291.50" x2="723.11" y2="340.20" stroke="#d9d9d9" stroke-width="1.00"/>
<line x1="746.34" y1="291.50" x2="746.34" y2="340.20" stroke="#d9d9d9" stroke-width="1.00"/>
<line x1="769.57" y1="291.50" x2="769.57" y2="340.20" stroke="#d9d9d9" stroke-width="1.00"/>
<line x1="792.80" y1="291.50" x2="792.80" y2="340.20" stroke="#d9d9d9" stroke-width="1.00"/>
<line x1="816.03" y1="291.50" x2="816.03" y2="340.20" stroke="#d9d9d9" stroke-width="1.00"/>
<line x1="839.26" y1="291.50" x2="839.26" y2="340.20" stroke="#d9d9d9" stroke-width="1.00"/>
<line x1="862.49" y1="291.50" x2="862.49" y2="340.20" stroke="#d9d9d9" stroke-width="1.00"/>
<line x1="885.72" y1="291.50" x2="885.72" y2="340.20" stroke="#d9d9d9" stroke-width="1.00"/>
<line x1="908.95" y1="291.50" x2="908.95" y2="340.20" stroke="#d9d9d9" stroke-width="1.00"/>
<line x1="932.18" y1="291.50" x2="932.18" y2="340.20" stroke="#d9d9d9" stroke-width="1.00"/>
<line x1="955.41" y1="291.50" x2="955.41" y2="340.20" stroke="#d9d9d9" stroke-width="1.00"/>
<line x1="978.64" y1="291.50" x2="978.64" y2="340.20" stroke="#d9d9d9" stroke-width="1.00"/>
<line x1="1001.87" y1="291.50" x2="1001.87" y2="340.20" stroke="#d9d9d9" stroke-width="1.00"/>
<line x1="1025.10" y1="291.50" x2="1025.10" y2="340.20" stroke="#d9d9d9" stroke-width="1.00"/>
<line x1="1048.33" y1="291.50" x2="1048.33" y2="340.20" stroke="#d9d9d9" stroke-width="1.00"/>
<line x1="1071.56" y1="291.50" x2="1071.56" y2="340.20" stroke="#d9d9d9" stroke-width="1.00"/>
<line x1="1094.79" y1="291.50" x2="1094.79" y2="340.20" stroke="#d9d9d9" stroke-width="1.00"/>
<line x1="1118.02" y1="291.50" x2="1118.02" y2="340.20" stroke="#d9d9d9" stroke-width="1.00"/>
<line x1="1141.25" y1="291.50" x2="1141.25" y2="340.20" stroke="#d9d9d9" stroke-width="1.00"/>
<line x1="1164.48" y1="291.50" x2="1164.48" y2="340.20" stroke="#d9d9d9" stroke-width="1.00"/>
<line x1="1187.71" y1="291.50" x2="1187.71" y2="340.20" stroke="#d9d9d9" stroke-width="1.00"/>
<line x1="1210.94" y1="291.50" x2="1210.94" y2="340.20" stroke="#d9d9d9" stroke-width="1.00"/>
<line x1="1234.17" y1="291.50" x2="1234.17" y2="340.20" stroke="#d9d9d9" stroke-width="1.00"/>
<line x1="1257.40" y1="291.50" x2="1257.40" y2="340.20" stroke="#d9d9d9" stroke-width="1.00"/>
<line x1="1280.63" y1="291.50" x2="1280.63" y2="340.20" stroke="#d9d9d9" stroke-width="1.00"/>
<line x1="1303.86" y1="291.50" x2="1303.86" y2="340.20" stroke="#d9d9d9" stroke-width="1.00"/>
<line x1="1327.09" y1="291.50" x2="1327.09" y2="340.20" stroke="#d9d9d9" stroke-width="1.00"/>
<line x1="1350.32" y1="291.50" x2="1350.32" y2="340.20" stroke="#d9d9d9" stroke-width="1.00"/>
<line x1="1373.55" y1="291.50" x2="1373.55" y2="340.20" stroke="#d9d9d9" stroke-width="1.00"/>
<line x1="1396.78" y1="291.50" x2="1396.78" y2="340.20" stroke="#d9d9d9" stroke-width="1.00"/>
<line x1="1420.01" y1="291.50" x2="1420.01" y2="340.20" stroke="#d9d9d9" stroke-width="1.00"/>
<line x1="1443.24" y1="291.50" x2="1443.24" y2="340.20" stroke="#d9d9d9" stroke-width="1.00"/>
<line x1="1466.47" y1="291.50" x2="1466.47" y2="340.20" stroke="#d9d9d9" stroke-width="1.00"/>
<line x1="1489.70" y1="291.50" x2="1489.70" y2="340.20" stroke="#d9d9d9" stroke-width="1.00"/>
<line x1="1512.93" y1="291.50" x2="1512.93" y2="340.20" stroke="#d9d9d9" stroke-width="1.00"/>
<rect x="590.60" y="253.43" width="7.40" height="9.77" fill="#ed7d31"/>
<rect x="613.87" y="263.20" width="7.40" height="8.39" fill="#ed7d31"/>
<rect x="637.14" y="263.20" width="7.40" height="9.98" fill="#ed7d31"/>
<rect x="660.41" y="263.20" width="7.40" height="3.26" fill="#ed7d31"/>
<rect x="683.68" y="252.93" width="7.40" height="10.27" fill="#ed7d31"/>
<rect x="706.95" y="263.20" width="7.40" height="1.83" fill="#ed7d31"/>
<rect x="730.22" y="254.53" width="7.40" height="8.67" fill="#ed7d31"/>
<rect x="753.49" y="263.20" width="7.40" height="20.34" fill="#ed7d31"/>
<rect x="776.76" y="248.75" width="7.40" height="14.45" fill="#ed7d31"/>
<rect x="823.30" y="263.20" width="7.40" height="9.86" fill="#ed7d31"/>
<rect x="846.57" y="259.77" width="7.40" height="3.43" fill="#ed7d31"/>
<rect x="869.84" y="263.20" width="7.40" height="3.48" fill="#ed7d31"/>
<rect x="893.11" y="262.73" width="7.40" height="0.47" fill="#ed7d31"/>
<rect x="916.38" y="261.32" width="7.40" height="1.88" fill="#ed7d31"/>
<rect x="939.65" y="263.20" width="7.40" height="10.49" fill="#ed7d31"/>
<rect x="962.92" y="263.20" width="7.40" height="1.42" fill="#ed7d31"/>
<rect x="986.19" y="263.20" width="7.40" height="5.43" fill="#ed7d31"/>
<rect x="1009.46" y="249.28" width="7.40" height="13.92" fill="#ed7d31"/>
<rect x="1032.73" y="263.20" width="7.40" height="14.57" fill="#ed7d31"/>
<rect x="1056.01" y="263.20" width="7.40" height="20.63" fill="#ed7d31"/>
<rect x="1079.28" y="254.14" width="7.40" height="9.06" fill="#ed7d31"/>
<rect x="1102.55" y="263.20" width="7.40" height="3.93" fill="#ed7d31"/>
<rect x="1125.82" y="262.76" width="7.40" height="0.44" fill="#ed7d31"/>
<rect x="1149.09" y="263.20" width="7.40" height="2.40" fill="#ed7d31"/>
<rect x="1172.36" y="263.20" width="7.40" height="0.55" fill="#ed7d31"/>
<rect x="1195.62" y="242.09" width="7.40" height="21.11" fill="#ed7d31"/>
<rect x="1218.89" y="263.20" width="7.40" height="18.94" fill="#ed7d31"/>
<rect x="1242.17" y="255.36" width="7.40" height="7.84" fill="#ed7d31"/>
<rect x="1265.44" y="263.20" width="7.40" height="0.40" fill="#ed7d31"/>
<rect x="1288.71" y="238.28" width="7.40" height="24.92" fill="#ed7d31"/>
<rect x="1311.98" y="263.20" width="7.40" height="13.11" fill="#ed7d31"/>
<rect x="1335.25" y="263.20" width="7.40" height="0.50" fill="#ed7d31"/>
<rect x="1358.52" y="263.20" width="7.40" height="4.29" fill="#ed7d31"/>
<polyline fill="none" stroke="#3f83c9" stroke-width="2.30" stroke-linejoin="round" points="571.03,198.81 594.30,189.03 617.57,197.43 640.84,207.41 664.12,210.67 687.38,200.40 710.65,202.23 733.92,193.57 757.19,213.91 780.47,199.46 803.74,199.38 827.00,209.24 850.27,205.81 873.54,209.28 896.81,208.81 920.08,206.93 943.35,217.42 966.62,218.83 989.89,224.26 1013.16,210.34 1036.43,224.92 1059.71,245.55 1082.98,236.49 1106.25,240.42 1129.52,239.98 1152.79,242.38 1176.06,242.93 1199.33,221.82 1222.60,240.76 1245.87,232.92 1269.14,233.32 1292.41,208.40 1315.68,221.51 1338.95,222.01 1362.22,226.30 1385.49,226.15 1408.76,262.30 1432.03,262.30 1455.30,262.30 1478.57,262.30 1501.84,262.30 1525.11,262.30"/>
<circle cx="571.03" cy="198.81" r="2.3" fill="#4a8bd0" stroke="#3f83c9" stroke-width="0.8"/>
<circle cx="594.30" cy="189.03" r="2.3" fill="#4a8bd0" stroke="#3f83c9" stroke-width="0.8"/>
<circle cx="617.57" cy="197.43" r="2.3" fill="#4a8bd0" stroke="#3f83c9" stroke-width="0.8"/>
<circle cx="640.84" cy="207.41" r="2.3" fill="#4a8bd0" stroke="#3f83c9" stroke-width="0.8"/>
<circle cx="664.12" cy="210.67" r="2.3" fill="#4a8bd0" stroke="#3f83c9" stroke-width="0.8"/>
<circle cx="687.38" cy="200.40" r="2.3" fill="#4a8bd0" stroke="#3f83c9" stroke-width="0.8"/>
<circle cx="710.65" cy="202.23" r="2.3" fill="#4a8bd0" stroke="#3f83c9" stroke-width="0.8"/>
<circle cx="733.92" cy="193.57" r="2.3" fill="#4a8bd0" stroke="#3f83c9" stroke-width="0.8"/>
<circle cx="757.19" cy="213.91" r="2.3" fill="#4a8bd0" stroke="#3f83c9" stroke-width="0.8"/>
<circle cx="780.47" cy="199.46" r="2.3" fill="#4a8bd0" stroke="#3f83c9" stroke-width="0.8"/>
<circle cx="803.74" cy="199.38" r="2.3" fill="#4a8bd0" stroke="#3f83c9" stroke-width="0.8"/>
<circle cx="827.00" cy="209.24" r="2.3" fill="#4a8bd0" stroke="#3f83c9" stroke-width="0.8"/>
<circle cx="850.27" cy="205.81" r="2.3" fill="#4a8bd0" stroke="#3f83c9" stroke-width="0.8"/>
<circle cx="873.54" cy="209.28" r="2.3" fill="#4a8bd0" stroke="#3f83c9" stroke-width="0.8"/>
<circle cx="896.81" cy="208.81" r="2.3" fill="#4a8bd0" stroke="#3f83c9" stroke-width="0.8"/>
<circle cx="920.08" cy="206.93" r="2.3" fill="#4a8bd0" stroke="#3f83c9" stroke-width="0.8"/>
<circle cx="943.35" cy="217.42" r="2.3" fill="#4a8bd0" stroke="#3f83c9" stroke-width="0.8"/>
<circle cx="966.62" cy="218.83" r="2.3" fill="#4a8bd0" stroke="#3f83c9" stroke-width="0.8"/>
<circle cx="989.89" cy="224.26" r="2.3" fill="#4a8bd0" stroke="#3f83c9" stroke-width="0.8"/>
<circle cx="1013.16" cy="210.34" r="2.3" fill="#4a8bd0" stroke="#3f83c9" stroke-width="0.8"/>
<circle cx="1036.43" cy="224.92" r="2.3" fill="#4a8bd0" stroke="#3f83c9" stroke-width="0.8"/>
<circle cx="1059.71" cy="245.55" r="2.3" fill="#4a8bd0" stroke="#3f83c9" stroke-width="0.8"/>
<circle cx="1082.98" cy="236.49" r="2.3" fill="#4a8bd0" stroke="#3f83c9" stroke-width="0.8"/>
<circle cx="1106.25" cy="240.42" r="2.3" fill="#4a8bd0" stroke="#3f83c9" stroke-width="0.8"/>
<circle cx="1129.52" cy="239.98" r="2.3" fill="#4a8bd0" stroke="#3f83c9" stroke-width="0.8"/>
<circle cx="1152.79" cy="242.38" r="2.3" fill="#4a8bd0" stroke="#3f83c9" stroke-width="0.8"/>
<circle cx="1176.06" cy="242.93" r="2.3" fill="#4a8bd0" stroke="#3f83c9" stroke-width="0.8"/>
<circle cx="1199.33" cy="221.82" r="2.3" fill="#4a8bd0" stroke="#3f83c9" stroke-width="0.8"/>
<circle cx="1222.60" cy="240.76" r="2.3" fill="#4a8bd0" stroke="#3f83c9" stroke-width="0.8"/>
<circle cx="1245.87" cy="232.92" r="2.3" fill="#4a8bd0" stroke="#3f83c9" stroke-width="0.8"/>
<circle cx="1269.14" cy="233.32" r="2.3" fill="#4a8bd0" stroke="#3f83c9" stroke-width="0.8"/>
<circle cx="1292.41" cy="208.40" r="2.3" fill="#4a8bd0" stroke="#3f83c9" stroke-width="0.8"/>
<circle cx="1315.68" cy="221.51" r="2.3" fill="#4a8bd0" stroke="#3f83c9" stroke-width="0.8"/>
<circle cx="1338.95" cy="222.01" r="2.3" fill="#4a8bd0" stroke="#3f83c9" stroke-width="0.8"/>
<circle cx="1362.22" cy="226.30" r="2.3" fill="#4a8bd0" stroke="#3f83c9" stroke-width="0.8"/>
<circle cx="1385.49" cy="226.15" r="2.3" fill="#4a8bd0" stroke="#3f83c9" stroke-width="0.8"/>
<circle cx="1408.76" cy="262.30" r="2.3" fill="#4a8bd0" stroke="#3f83c9" stroke-width="0.8"/>
<circle cx="1432.03" cy="262.30" r="2.3" fill="#4a8bd0" stroke="#3f83c9" stroke-width="0.8"/>
<circle cx="1455.30" cy="262.30" r="2.3" fill="#4a8bd0" stroke="#3f83c9" stroke-width="0.8"/>
<circle cx="1478.57" cy="262.30" r="2.3" fill="#4a8bd0" stroke="#3f83c9" stroke-width="0.8"/>
<circle cx="1501.84" cy="262.30" r="2.3" fill="#4a8bd0" stroke="#3f83c9" stroke-width="0.8"/>
<circle cx="1525.11" cy="262.30" r="2.3" fill="#4a8bd0" stroke="#3f83c9" stroke-width="0.8"/>
<text x="552.00" y="180.58" font-size="7.99" fill="#353535" text-anchor="end" stroke="#353535" stroke-width="0.16" textLength="22.63" lengthAdjust="spacingAndGlyphs">60,000</text>
<text x="552.00" y="194.80" font-size="7.99" fill="#353535" text-anchor="end" stroke="#353535" stroke-width="0.16" textLength="22.63" lengthAdjust="spacingAndGlyphs">50,000</text>
<text x="552.00" y="209.02" font-size="7.99" fill="#353535" text-anchor="end" stroke="#353535" stroke-width="0.16" textLength="22.63" lengthAdjust="spacingAndGlyphs">40,000</text>
<text x="552.00" y="223.24" font-size="7.99" fill="#353535" text-anchor="end" stroke="#353535" stroke-width="0.16" textLength="22.63" lengthAdjust="spacingAndGlyphs">30,000</text>
<text x="552.00" y="237.46" font-size="7.99" fill="#353535" text-anchor="end" stroke="#353535" stroke-width="0.16" textLength="22.63" lengthAdjust="spacingAndGlyphs">20,000</text>
<text x="552.00" y="251.68" font-size="7.99" fill="#353535" text-anchor="end" stroke="#353535" stroke-width="0.16" textLength="22.63" lengthAdjust="spacingAndGlyphs">10,000</text>
<text x="552.00" y="265.90" font-size="7.99" fill="#353535" text-anchor="end" stroke="#353535" stroke-width="0.16" textLength="4.12" lengthAdjust="spacingAndGlyphs">0</text>
<text x="552.00" y="280.12" font-size="7.99" fill="#353535" text-anchor="end" stroke="#353535" stroke-width="0.16" textLength="25.10" lengthAdjust="spacingAndGlyphs">-10,000</text>
<text x="552.00" y="294.34" font-size="7.99" fill="#353535" text-anchor="end" stroke="#353535" stroke-width="0.16" textLength="25.10" lengthAdjust="spacingAndGlyphs">-20,000</text>
<text x="571.32" y="300.60" font-size="7.78" fill="#353535" text-anchor="middle" stroke="#353535" stroke-width="0.16" textLength="20.81" lengthAdjust="spacingAndGlyphs">02-01-</text>
<text x="571.32" y="310.40" font-size="7.78" fill="#353535" text-anchor="middle" stroke="#353535" stroke-width="0.16" textLength="16.02" lengthAdjust="spacingAndGlyphs">2022</text>
<text x="571.32" y="336.50" font-size="7.78" fill="#353535" text-anchor="middle" stroke="#353535" stroke-width="0.16" textLength="18.02" lengthAdjust="spacingAndGlyphs">44,64</text>
<text x="594.55" y="300.60" font-size="7.78" fill="#353535" text-anchor="middle" stroke="#353535" stroke-width="0.16" textLength="20.81" lengthAdjust="spacingAndGlyphs">09-01-</text>
<text x="594.55" y="310.40" font-size="7.78" fill="#353535" text-anchor="middle" stroke="#353535" stroke-width="0.16" textLength="16.02" lengthAdjust="spacingAndGlyphs">2022</text>
<text x="594.55" y="323.30" font-size="7.78" fill="#353535" text-anchor="middle" stroke="#353535" stroke-width="0.16" textLength="18.02" lengthAdjust="spacingAndGlyphs">6,874</text>
<text x="594.55" y="336.50" font-size="7.78" fill="#353535" text-anchor="middle" stroke="#353535" stroke-width="0.16" textLength="18.02" lengthAdjust="spacingAndGlyphs">51,52</text>
<text x="617.78" y="300.60" font-size="7.78" fill="#353535" text-anchor="middle" stroke="#353535" stroke-width="0.16" textLength="20.81" lengthAdjust="spacingAndGlyphs">16-01-</text>
<text x="617.78" y="310.40" font-size="7.78" fill="#353535" text-anchor="middle" stroke="#353535" stroke-width="0.16" textLength="16.02" lengthAdjust="spacingAndGlyphs">2022</text>
<text x="617.78" y="323.30" font-size="7.78" fill="#353535" text-anchor="middle" stroke="#353535" stroke-width="0.16" textLength="16.41" lengthAdjust="spacingAndGlyphs">-5,90</text>
<text x="617.78" y="336.50" font-size="7.78" fill="#353535" text-anchor="middle" stroke="#353535" stroke-width="0.16" textLength="18.02" lengthAdjust="spacingAndGlyphs">45,62</text>
<text x="641.01" y="300.60" font-size="7.78" fill="#353535" text-anchor="middle" stroke="#353535" stroke-width="0.16" textLength="20.81" lengthAdjust="spacingAndGlyphs">23-01-</text>
<text x="641.01" y="310.40" font-size="7.78" fill="#353535" text-anchor="middle" stroke="#353535" stroke-width="0.16" textLength="16.02" lengthAdjust="spacingAndGlyphs">2022</text>
<text x="641.01" y="323.30" font-size="7.78" fill="#353535" text-anchor="middle" stroke="#353535" stroke-width="0.16" textLength="16.41" lengthAdjust="spacingAndGlyphs">-7,02</text>
<text x="641.01" y="336.50" font-size="7.78" fill="#353535" text-anchor="middle" stroke="#353535" stroke-width="0.16" textLength="18.02" lengthAdjust="spacingAndGlyphs">38,60</text>
<text x="664.24" y="300.60" font-size="7.78" fill="#353535" text-anchor="middle" stroke="#353535" stroke-width="0.16" textLength="20.81" lengthAdjust="spacingAndGlyphs">30-01-</text>
<text x="664.24" y="310.40" font-size="7.78" fill="#353535" text-anchor="middle" stroke="#353535" stroke-width="0.16" textLength="16.02" lengthAdjust="spacingAndGlyphs">2022</text>
<text x="664.24" y="323.30" font-size="7.78" fill="#353535" text-anchor="middle" stroke="#353535" stroke-width="0.16" textLength="16.41" lengthAdjust="spacingAndGlyphs">-2,29</text>
<text x="664.24" y="336.50" font-size="7.78" fill="#353535" text-anchor="middle" stroke="#353535" stroke-width="0.16" textLength="18.02" lengthAdjust="spacingAndGlyphs">36,30</text>
<text x="687.47" y="300.60" font-size="7.78" fill="#353535" text-anchor="middle" stroke="#353535" stroke-width="0.16" textLength="20.81" lengthAdjust="spacingAndGlyphs">06-02-</text>
<text x="687.47" y="310.40" font-size="7.78" fill="#353535" text-anchor="middle" stroke="#353535" stroke-width="0.16" textLength="16.02" lengthAdjust="spacingAndGlyphs">2022</text>
<text x="687.47" y="323.30" font-size="7.78" fill="#353535" text-anchor="middle" stroke="#353535" stroke-width="0.16" textLength="18.02" lengthAdjust="spacingAndGlyphs">7,223</text>
<text x="687.47" y="336.50" font-size="7.78" fill="#353535" text-anchor="middle" stroke="#353535" stroke-width="0.16" textLength="18.02" lengthAdjust="spacingAndGlyphs">43,53</text>
<text x="710.70" y="300.60" font-size="7.78" fill="#353535" text-anchor="middle" stroke="#353535" stroke-width="0.16" textLength="20.81" lengthAdjust="spacingAndGlyphs">13-02-</text>
<text x="710.70" y="310.40" font-size="7.78" fill="#353535" text-anchor="middle" stroke="#353535" stroke-width="0.16" textLength="16.02" lengthAdjust="spacingAndGlyphs">2022</text>
<text x="710.70" y="323.30" font-size="7.78" fill="#353535" text-anchor="middle" stroke="#353535" stroke-width="0.16" textLength="16.41" lengthAdjust="spacingAndGlyphs">-1,28</text>
<text x="710.70" y="336.50" font-size="7.78" fill="#353535" text-anchor="middle" stroke="#353535" stroke-width="0.16" textLength="18.02" lengthAdjust="spacingAndGlyphs">42,24</text>
<text x="733.93" y="300.60" font-size="7.78" fill="#353535" text-anchor="middle" stroke="#353535" stroke-width="0.16" textLength="20.81" lengthAdjust="spacingAndGlyphs">20-02-</text>
<text x="733.93" y="310.40" font-size="7.78" fill="#353535" text-anchor="middle" stroke="#353535" stroke-width="0.16" textLength="16.02" lengthAdjust="spacingAndGlyphs">2022</text>
<text x="733.93" y="323.30" font-size="7.78" fill="#353535" text-anchor="middle" stroke="#353535" stroke-width="0.16" textLength="18.02" lengthAdjust="spacingAndGlyphs">6,094</text>
<text x="733.93" y="336.50" font-size="7.78" fill="#353535" text-anchor="middle" stroke="#353535" stroke-width="0.16" textLength="18.02" lengthAdjust="spacingAndGlyphs">48,33</text>
<text x="757.16" y="300.60" font-size="7.78" fill="#353535" text-anchor="middle" stroke="#353535" stroke-width="0.16" textLength="20.81" lengthAdjust="spacingAndGlyphs">27-02-</text>
<text x="757.16" y="310.40" font-size="7.78" fill="#353535" text-anchor="middle" stroke="#353535" stroke-width="0.16" textLength="16.02" lengthAdjust="spacingAndGlyphs">2022</text>
<text x="757.16" y="323.30" font-size="7.78" fill="#353535" text-anchor="middle" stroke="#353535" stroke-width="0.16" textLength="16.41" lengthAdjust="spacingAndGlyphs">-14,3</text>
<text x="757.16" y="336.50" font-size="7.78" fill="#353535" text-anchor="middle" stroke="#353535" stroke-width="0.16" textLength="18.02" lengthAdjust="spacingAndGlyphs">34,03</text>
<text x="780.38" y="300.60" font-size="7.78" fill="#353535" text-anchor="middle" stroke="#353535" stroke-width="0.16" textLength="20.81" lengthAdjust="spacingAndGlyphs">06-03-</text>
<text x="780.38" y="310.40" font-size="7.78" fill="#353535" text-anchor="middle" stroke="#353535" stroke-width="0.16" textLength="16.02" lengthAdjust="spacingAndGlyphs">2022</text>
<text x="780.38" y="323.30" font-size="7.78" fill="#353535" text-anchor="middle" stroke="#353535" stroke-width="0.16" textLength="18.02" lengthAdjust="spacingAndGlyphs">10,15</text>
<text x="780.38" y="336.50" font-size="7.78" fill="#353535" text-anchor="middle" stroke="#353535" stroke-width="0.16" textLength="18.02" lengthAdjust="spacingAndGlyphs">44,18</text>
<text x="803.62" y="300.60" font-size="7.78" fill="#353535" text-anchor="middle" stroke="#353535" stroke-width="0.16" textLength="20.81" lengthAdjust="spacingAndGlyphs">13-03-</text>
<text x="803.62" y="310.40" font-size="7.78" fill="#353535" text-anchor="middle" stroke="#353535" stroke-width="0.16" textLength="16.02" lengthAdjust="spacingAndGlyphs">2022</text>
<text x="803.62" y="323.30" font-size="7.78" fill="#353535" text-anchor="middle" stroke="#353535" stroke-width="0.16" textLength="8.01" lengthAdjust="spacingAndGlyphs">60</text>
<text x="803.62" y="336.50" font-size="7.78" fill="#353535" text-anchor="middle" stroke="#353535" stroke-width="0.16" textLength="18.02" lengthAdjust="spacingAndGlyphs">44,24</text>
<text x="826.85" y="300.60" font-size="7.78" fill="#353535" text-anchor="middle" stroke="#353535" stroke-width="0.16" textLength="20.81" lengthAdjust="spacingAndGlyphs">20-03-</text>
<text x="826.85" y="310.40" font-size="7.78" fill="#353535" text-anchor="middle" stroke="#353535" stroke-width="0.16" textLength="16.02" lengthAdjust="spacingAndGlyphs">2022</text>
<text x="826.85" y="323.30" font-size="7.78" fill="#353535" text-anchor="middle" stroke="#353535" stroke-width="0.16" textLength="16.41" lengthAdjust="spacingAndGlyphs">-6,93</text>
<text x="826.85" y="336.50" font-size="7.78" fill="#353535" text-anchor="middle" stroke="#353535" stroke-width="0.16" textLength="18.02" lengthAdjust="spacingAndGlyphs">37,31</text>
<text x="850.08" y="300.60" font-size="7.78" fill="#353535" text-anchor="middle" stroke="#353535" stroke-width="0.16" textLength="20.81" lengthAdjust="spacingAndGlyphs">27-03-</text>
<text x="850.08" y="310.40" font-size="7.78" fill="#353535" text-anchor="middle" stroke="#353535" stroke-width="0.16" textLength="16.02" lengthAdjust="spacingAndGlyphs">2022</text>
<text x="850.08" y="323.30" font-size="7.78" fill="#353535" text-anchor="middle" stroke="#353535" stroke-width="0.16" textLength="18.02" lengthAdjust="spacingAndGlyphs">2,412</text>
<text x="850.08" y="336.50" font-size="7.78" fill="#353535" text-anchor="middle" stroke="#353535" stroke-width="0.16" textLength="18.02" lengthAdjust="spacingAndGlyphs">39,72</text>
<text x="873.31" y="300.60" font-size="7.78" fill="#353535" text-anchor="middle" stroke="#353535" stroke-width="0.16" textLength="20.81" lengthAdjust="spacingAndGlyphs">03-04-</text>
<text x="873.31" y="310.40" font-size="7.78" fill="#353535" text-anchor="middle" stroke="#353535" stroke-width="0.16" textLength="16.02" lengthAdjust="spacingAndGlyphs">2022</text>
<text x="873.31" y="323.30" font-size="7.78" fill="#353535" text-anchor="middle" stroke="#353535" stroke-width="0.16" textLength="16.41" lengthAdjust="spacingAndGlyphs">-2,44</text>
<text x="873.31" y="336.50" font-size="7.78" fill="#353535" text-anchor="middle" stroke="#353535" stroke-width="0.16" textLength="18.02" lengthAdjust="spacingAndGlyphs">37,28</text>
<text x="896.54" y="300.60" font-size="7.78" fill="#353535" text-anchor="middle" stroke="#353535" stroke-width="0.16" textLength="20.81" lengthAdjust="spacingAndGlyphs">10-04-</text>
<text x="896.54" y="310.40" font-size="7.78" fill="#353535" text-anchor="middle" stroke="#353535" stroke-width="0.16" textLength="16.02" lengthAdjust="spacingAndGlyphs">2022</text>
<text x="896.54" y="323.30" font-size="7.78" fill="#353535" text-anchor="middle" stroke="#353535" stroke-width="0.16" textLength="12.01" lengthAdjust="spacingAndGlyphs">333</text>
<text x="896.54" y="336.50" font-size="7.78" fill="#353535" text-anchor="middle" stroke="#353535" stroke-width="0.16" textLength="18.02" lengthAdjust="spacingAndGlyphs">37,61</text>
<text x="919.77" y="300.60" font-size="7.78" fill="#353535" text-anchor="middle" stroke="#353535" stroke-width="0.16" textLength="20.81" lengthAdjust="spacingAndGlyphs">17-04-</text>
<text x="919.77" y="310.40" font-size="7.78" fill="#353535" text-anchor="middle" stroke="#353535" stroke-width="0.16" textLength="16.02" lengthAdjust="spacingAndGlyphs">2022</text>
<text x="919.77" y="323.30" font-size="7.78" fill="#353535" text-anchor="middle" stroke="#353535" stroke-width="0.16" textLength="18.02" lengthAdjust="spacingAndGlyphs">1,324</text>
<text x="919.77" y="336.50" font-size="7.78" fill="#353535" text-anchor="middle" stroke="#353535" stroke-width="0.16" textLength="18.02" lengthAdjust="spacingAndGlyphs">38,93</text>
<text x="943.00" y="300.60" font-size="7.78" fill="#353535" text-anchor="middle" stroke="#353535" stroke-width="0.16" textLength="20.81" lengthAdjust="spacingAndGlyphs">24-04-</text>
<text x="943.00" y="310.40" font-size="7.78" fill="#353535" text-anchor="middle" stroke="#353535" stroke-width="0.16" textLength="16.02" lengthAdjust="spacingAndGlyphs">2022</text>
<text x="943.00" y="323.30" font-size="7.78" fill="#353535" text-anchor="middle" stroke="#353535" stroke-width="0.16" textLength="16.41" lengthAdjust="spacingAndGlyphs">-7,37</text>
<text x="943.00" y="336.50" font-size="7.78" fill="#353535" text-anchor="middle" stroke="#353535" stroke-width="0.16" textLength="18.02" lengthAdjust="spacingAndGlyphs">31,56</text>
<text x="966.23" y="300.60" font-size="7.78" fill="#353535" text-anchor="middle" stroke="#353535" stroke-width="0.16" textLength="20.81" lengthAdjust="spacingAndGlyphs">01-05-</text>
<text x="966.23" y="310.40" font-size="7.78" fill="#353535" text-anchor="middle" stroke="#353535" stroke-width="0.16" textLength="16.02" lengthAdjust="spacingAndGlyphs">2022</text>
<text x="966.23" y="323.30" font-size="7.78" fill="#353535" text-anchor="middle" stroke="#353535" stroke-width="0.16" textLength="14.41" lengthAdjust="spacingAndGlyphs">-997</text>
<text x="966.23" y="336.50" font-size="7.78" fill="#353535" text-anchor="middle" stroke="#353535" stroke-width="0.16" textLength="18.02" lengthAdjust="spacingAndGlyphs">30,56</text>
<text x="989.46" y="300.60" font-size="7.78" fill="#353535" text-anchor="middle" stroke="#353535" stroke-width="0.16" textLength="20.81" lengthAdjust="spacingAndGlyphs">08-05-</text>
<text x="989.46" y="310.40" font-size="7.78" fill="#353535" text-anchor="middle" stroke="#353535" stroke-width="0.16" textLength="16.02" lengthAdjust="spacingAndGlyphs">2022</text>
<text x="989.46" y="323.30" font-size="7.78" fill="#353535" text-anchor="middle" stroke="#353535" stroke-width="0.16" textLength="16.41" lengthAdjust="spacingAndGlyphs">-3,81</text>
<text x="989.46" y="336.50" font-size="7.78" fill="#353535" text-anchor="middle" stroke="#353535" stroke-width="0.16" textLength="18.02" lengthAdjust="spacingAndGlyphs">26,75</text>
<text x="1012.69" y="300.60" font-size="7.78" fill="#353535" text-anchor="middle" stroke="#353535" stroke-width="0.16" textLength="20.81" lengthAdjust="spacingAndGlyphs">15-05-</text>
<text x="1012.69" y="310.40" font-size="7.78" fill="#353535" text-anchor="middle" stroke="#353535" stroke-width="0.16" textLength="16.02" lengthAdjust="spacingAndGlyphs">2022</text>
<text x="1012.69" y="323.30" font-size="7.78" fill="#353535" text-anchor="middle" stroke="#353535" stroke-width="0.16" textLength="18.02" lengthAdjust="spacingAndGlyphs">9,788</text>
<text x="1012.69" y="336.50" font-size="7.78" fill="#353535" text-anchor="middle" stroke="#353535" stroke-width="0.16" textLength="18.02" lengthAdjust="spacingAndGlyphs">36,53</text>
<text x="1035.92" y="300.60" font-size="7.78" fill="#353535" text-anchor="middle" stroke="#353535" stroke-width="0.16" textLength="20.81" lengthAdjust="spacingAndGlyphs">22-05-</text>
<text x="1035.92" y="310.40" font-size="7.78" fill="#353535" text-anchor="middle" stroke="#353535" stroke-width="0.16" textLength="16.02" lengthAdjust="spacingAndGlyphs">2022</text>
<text x="1035.92" y="323.30" font-size="7.78" fill="#353535" text-anchor="middle" stroke="#353535" stroke-width="0.16" textLength="16.41" lengthAdjust="spacingAndGlyphs">-10,2</text>
<text x="1035.92" y="336.50" font-size="7.78" fill="#353535" text-anchor="middle" stroke="#353535" stroke-width="0.16" textLength="18.02" lengthAdjust="spacingAndGlyphs">26,29</text>
<text x="1059.14" y="300.60" font-size="7.78" fill="#353535" text-anchor="middle" stroke="#353535" stroke-width="0.16" textLength="20.81" lengthAdjust="spacingAndGlyphs">29-05-</text>
<text x="1059.14" y="310.40" font-size="7.78" fill="#353535" text-anchor="middle" stroke="#353535" stroke-width="0.16" textLength="16.02" lengthAdjust="spacingAndGlyphs">2022</text>
<text x="1059.14" y="323.30" font-size="7.78" fill="#353535" text-anchor="middle" stroke="#353535" stroke-width="0.16" textLength="16.41" lengthAdjust="spacingAndGlyphs">-14,5</text>
<text x="1059.14" y="336.50" font-size="7.78" fill="#353535" text-anchor="middle" stroke="#353535" stroke-width="0.16" textLength="17.48" lengthAdjust="spacingAndGlyphs">11,78</text>
<text x="1082.38" y="300.60" font-size="7.78" fill="#353535" text-anchor="middle" stroke="#353535" stroke-width="0.16" textLength="20.81" lengthAdjust="spacingAndGlyphs">05-06-</text>
<text x="1082.38" y="310.40" font-size="7.78" fill="#353535" text-anchor="middle" stroke="#353535" stroke-width="0.16" textLength="16.02" lengthAdjust="spacingAndGlyphs">2022</text>
<text x="1082.38" y="323.30" font-size="7.78" fill="#353535" text-anchor="middle" stroke="#353535" stroke-width="0.16" textLength="18.02" lengthAdjust="spacingAndGlyphs">6,371</text>
<text x="1082.38" y="336.50" font-size="7.78" fill="#353535" text-anchor="middle" stroke="#353535" stroke-width="0.16" textLength="18.02" lengthAdjust="spacingAndGlyphs">18,15</text>
<text x="1105.61" y="300.60" font-size="7.78" fill="#353535" text-anchor="middle" stroke="#353535" stroke-width="0.16" textLength="20.81" lengthAdjust="spacingAndGlyphs">12-06-</text>
<text x="1105.61" y="310.40" font-size="7.78" fill="#353535" text-anchor="middle" stroke="#353535" stroke-width="0.16" textLength="16.02" lengthAdjust="spacingAndGlyphs">2022</text>
<text x="1105.61" y="323.30" font-size="7.78" fill="#353535" text-anchor="middle" stroke="#353535" stroke-width="0.16" textLength="16.41" lengthAdjust="spacingAndGlyphs">-2,76</text>
<text x="1105.61" y="336.50" font-size="7.78" fill="#353535" text-anchor="middle" stroke="#353535" stroke-width="0.16" textLength="18.02" lengthAdjust="spacingAndGlyphs">15,38</text>
<text x="1128.84" y="300.60" font-size="7.78" fill="#353535" text-anchor="middle" stroke="#353535" stroke-width="0.16" textLength="20.81" lengthAdjust="spacingAndGlyphs">19-06-</text>
<text x="1128.84" y="310.40" font-size="7.78" fill="#353535" text-anchor="middle" stroke="#353535" stroke-width="0.16" textLength="16.02" lengthAdjust="spacingAndGlyphs">2022</text>
<text x="1128.84" y="323.30" font-size="7.78" fill="#353535" text-anchor="middle" stroke="#353535" stroke-width="0.16" textLength="12.01" lengthAdjust="spacingAndGlyphs">308</text>
<text x="1128.84" y="336.50" font-size="7.78" fill="#353535" text-anchor="middle" stroke="#353535" stroke-width="0.16" textLength="18.02" lengthAdjust="spacingAndGlyphs">15,69</text>
<text x="1152.07" y="300.60" font-size="7.78" fill="#353535" text-anchor="middle" stroke="#353535" stroke-width="0.16" textLength="20.81" lengthAdjust="spacingAndGlyphs">26-06-</text>
<text x="1152.07" y="310.40" font-size="7.78" fill="#353535" text-anchor="middle" stroke="#353535" stroke-width="0.16" textLength="16.02" lengthAdjust="spacingAndGlyphs">2022</text>
<text x="1152.07" y="323.30" font-size="7.78" fill="#353535" text-anchor="middle" stroke="#353535" stroke-width="0.16" textLength="16.41" lengthAdjust="spacingAndGlyphs">-1,68</text>
<text x="1152.07" y="336.50" font-size="7.78" fill="#353535" text-anchor="middle" stroke="#353535" stroke-width="0.16" textLength="18.02" lengthAdjust="spacingAndGlyphs">14,00</text>
<text x="1175.30" y="300.60" font-size="7.78" fill="#353535" text-anchor="middle" stroke="#353535" stroke-width="0.16" textLength="20.81" lengthAdjust="spacingAndGlyphs">03-07-</text>
<text x="1175.30" y="310.40" font-size="7.78" fill="#353535" text-anchor="middle" stroke="#353535" stroke-width="0.16" textLength="16.02" lengthAdjust="spacingAndGlyphs">2022</text>
<text x="1175.30" y="323.30" font-size="7.78" fill="#353535" text-anchor="middle" stroke="#353535" stroke-width="0.16" textLength="14.41" lengthAdjust="spacingAndGlyphs">-386</text>
<text x="1175.30" y="336.50" font-size="7.78" fill="#353535" text-anchor="middle" stroke="#353535" stroke-width="0.16" textLength="18.02" lengthAdjust="spacingAndGlyphs">13,62</text>
<text x="1198.53" y="300.60" font-size="7.78" fill="#353535" text-anchor="middle" stroke="#353535" stroke-width="0.16" textLength="20.81" lengthAdjust="spacingAndGlyphs">10-07-</text>
<text x="1198.53" y="310.40" font-size="7.78" fill="#353535" text-anchor="middle" stroke="#353535" stroke-width="0.16" textLength="16.02" lengthAdjust="spacingAndGlyphs">2022</text>
<text x="1198.53" y="323.30" font-size="7.78" fill="#353535" text-anchor="middle" stroke="#353535" stroke-width="0.16" textLength="18.02" lengthAdjust="spacingAndGlyphs">14,84</text>
<text x="1198.53" y="336.50" font-size="7.78" fill="#353535" text-anchor="middle" stroke="#353535" stroke-width="0.16" textLength="18.02" lengthAdjust="spacingAndGlyphs">28,46</text>
<text x="1221.76" y="300.60" font-size="7.78" fill="#353535" text-anchor="middle" stroke="#353535" stroke-width="0.16" textLength="20.81" lengthAdjust="spacingAndGlyphs">17-07-</text>
<text x="1221.76" y="310.40" font-size="7.78" fill="#353535" text-anchor="middle" stroke="#353535" stroke-width="0.16" textLength="16.02" lengthAdjust="spacingAndGlyphs">2022</text>
<text x="1221.76" y="323.30" font-size="7.78" fill="#353535" text-anchor="middle" stroke="#353535" stroke-width="0.16" textLength="16.41" lengthAdjust="spacingAndGlyphs">-13,3</text>
<text x="1221.76" y="336.50" font-size="7.78" fill="#353535" text-anchor="middle" stroke="#353535" stroke-width="0.16" textLength="18.02" lengthAdjust="spacingAndGlyphs">15,14</text>
<text x="1244.98" y="300.60" font-size="7.78" fill="#353535" text-anchor="middle" stroke="#353535" stroke-width="0.16" textLength="20.81" lengthAdjust="spacingAndGlyphs">24-07-</text>
<text x="1244.98" y="310.40" font-size="7.78" fill="#353535" text-anchor="middle" stroke="#353535" stroke-width="0.16" textLength="16.02" lengthAdjust="spacingAndGlyphs">2022</text>
<text x="1244.98" y="323.30" font-size="7.78" fill="#353535" text-anchor="middle" stroke="#353535" stroke-width="0.16" textLength="18.02" lengthAdjust="spacingAndGlyphs">5,515</text>
<text x="1244.98" y="336.50" font-size="7.78" fill="#353535" text-anchor="middle" stroke="#353535" stroke-width="0.16" textLength="18.02" lengthAdjust="spacingAndGlyphs">20,66</text>
<text x="1268.21" y="300.60" font-size="7.78" fill="#353535" text-anchor="middle" stroke="#353535" stroke-width="0.16" textLength="20.81" lengthAdjust="spacingAndGlyphs">31-07-</text>
<text x="1268.21" y="310.40" font-size="7.78" fill="#353535" text-anchor="middle" stroke="#353535" stroke-width="0.16" textLength="16.02" lengthAdjust="spacingAndGlyphs">2022</text>
<text x="1268.21" y="323.30" font-size="7.78" fill="#353535" text-anchor="middle" stroke="#353535" stroke-width="0.16" textLength="14.41" lengthAdjust="spacingAndGlyphs">-280</text>
<text x="1268.21" y="336.50" font-size="7.78" fill="#353535" text-anchor="middle" stroke="#353535" stroke-width="0.16" textLength="18.02" lengthAdjust="spacingAndGlyphs">20,38</text>
<text x="1291.44" y="300.60" font-size="7.78" fill="#353535" text-anchor="middle" stroke="#353535" stroke-width="0.16" textLength="20.81" lengthAdjust="spacingAndGlyphs">07-08-</text>
<text x="1291.44" y="310.40" font-size="7.78" fill="#353535" text-anchor="middle" stroke="#353535" stroke-width="0.16" textLength="16.02" lengthAdjust="spacingAndGlyphs">2022</text>
<text x="1291.44" y="323.30" font-size="7.78" fill="#353535" text-anchor="middle" stroke="#353535" stroke-width="0.16" textLength="18.02" lengthAdjust="spacingAndGlyphs">17,52</text>
<text x="1291.44" y="336.50" font-size="7.78" fill="#353535" text-anchor="middle" stroke="#353535" stroke-width="0.16" textLength="18.02" lengthAdjust="spacingAndGlyphs">37,90</text>
<text x="1314.67" y="300.60" font-size="7.78" fill="#353535" text-anchor="middle" stroke="#353535" stroke-width="0.16" textLength="20.81" lengthAdjust="spacingAndGlyphs">14-08-</text>
<text x="1314.67" y="310.40" font-size="7.78" fill="#353535" text-anchor="middle" stroke="#353535" stroke-width="0.16" textLength="16.02" lengthAdjust="spacingAndGlyphs">2022</text>
<text x="1314.67" y="323.30" font-size="7.78" fill="#353535" text-anchor="middle" stroke="#353535" stroke-width="0.16" textLength="16.41" lengthAdjust="spacingAndGlyphs">-9,21</text>
<text x="1314.67" y="336.50" font-size="7.78" fill="#353535" text-anchor="middle" stroke="#353535" stroke-width="0.16" textLength="18.02" lengthAdjust="spacingAndGlyphs">28,68</text>
<text x="1337.90" y="300.60" font-size="7.78" fill="#353535" text-anchor="middle" stroke="#353535" stroke-width="0.16" textLength="20.81" lengthAdjust="spacingAndGlyphs">21-08-</text>
<text x="1337.90" y="310.40" font-size="7.78" fill="#353535" text-anchor="middle" stroke="#353535" stroke-width="0.16" textLength="16.02" lengthAdjust="spacingAndGlyphs">2022</text>
<text x="1337.90" y="323.30" font-size="7.78" fill="#353535" text-anchor="middle" stroke="#353535" stroke-width="0.16" textLength="14.41" lengthAdjust="spacingAndGlyphs">-353</text>
<text x="1337.90" y="336.50" font-size="7.78" fill="#353535" text-anchor="middle" stroke="#353535" stroke-width="0.16" textLength="18.02" lengthAdjust="spacingAndGlyphs">28,33</text>
<text x="1361.13" y="300.60" font-size="7.78" fill="#353535" text-anchor="middle" stroke="#353535" stroke-width="0.16" textLength="20.81" lengthAdjust="spacingAndGlyphs">28-08-</text>
<text x="1361.13" y="310.40" font-size="7.78" fill="#353535" text-anchor="middle" stroke="#353535" stroke-width="0.16" textLength="16.02" lengthAdjust="spacingAndGlyphs">2022</text>
<text x="1361.13" y="323.30" font-size="7.78" fill="#353535" text-anchor="middle" stroke="#353535" stroke-width="0.16" textLength="16.41" lengthAdjust="spacingAndGlyphs">-3,01</text>
<text x="1361.13" y="336.50" font-size="7.78" fill="#353535" text-anchor="middle" stroke="#353535" stroke-width="0.16" textLength="18.02" lengthAdjust="spacingAndGlyphs">25,31</text>
<text x="1384.37" y="300.60" font-size="7.78" fill="#353535" text-anchor="middle" stroke="#353535" stroke-width="0.16" textLength="20.81" lengthAdjust="spacingAndGlyphs">04-09-</text>
<text x="1384.37" y="310.40" font-size="7.78" fill="#353535" text-anchor="middle" stroke="#353535" stroke-width="0.16" textLength="16.02" lengthAdjust="spacingAndGlyphs">2022</text>
<text x="1384.37" y="323.30" font-size="7.78" fill="#353535" text-anchor="middle" stroke="#353535" stroke-width="0.16" textLength="11.48" lengthAdjust="spacingAndGlyphs">110</text>
<text x="1384.37" y="336.50" font-size="7.78" fill="#353535" text-anchor="middle" stroke="#353535" stroke-width="0.16" textLength="18.02" lengthAdjust="spacingAndGlyphs">25,42</text>
<text x="571.03" y="191.41" font-size="7.88" fill="#353535" text-anchor="middle" stroke="#353535" stroke-width="0.16" textLength="22.33" lengthAdjust="spacingAndGlyphs">44,649</text>
<text x="594.30" y="181.63" font-size="7.88" fill="#353535" text-anchor="middle" stroke="#353535" stroke-width="0.16" textLength="22.33" lengthAdjust="spacingAndGlyphs">51,523</text>
<text x="617.57" y="190.03" font-size="7.88" fill="#353535" text-anchor="middle" stroke="#353535" stroke-width="0.16" textLength="22.33" lengthAdjust="spacingAndGlyphs">45,622</text>
<text x="640.84" y="200.01" font-size="7.88" fill="#353535" text-anchor="middle" stroke="#353535" stroke-width="0.16" textLength="22.33" lengthAdjust="spacingAndGlyphs">38,602</text>
<text x="664.12" y="203.27" font-size="7.88" fill="#353535" text-anchor="middle" stroke="#353535" stroke-width="0.16" textLength="22.33" lengthAdjust="spacingAndGlyphs">36,308</text>
<text x="687.38" y="193.00" font-size="7.88" fill="#353535" text-anchor="middle" stroke="#353535" stroke-width="0.16" textLength="22.33" lengthAdjust="spacingAndGlyphs">43,531</text>
<text x="710.65" y="194.83" font-size="7.88" fill="#353535" text-anchor="middle" stroke="#353535" stroke-width="0.16" textLength="22.33" lengthAdjust="spacingAndGlyphs">42,242</text>
<text x="733.92" y="186.17" font-size="7.88" fill="#353535" text-anchor="middle" stroke="#353535" stroke-width="0.16" textLength="22.33" lengthAdjust="spacingAndGlyphs">48,336</text>
<text x="757.19" y="206.51" font-size="7.88" fill="#353535" text-anchor="middle" stroke="#353535" stroke-width="0.16" textLength="22.33" lengthAdjust="spacingAndGlyphs">34,030</text>
<text x="780.47" y="192.06" font-size="7.88" fill="#353535" text-anchor="middle" stroke="#353535" stroke-width="0.16" textLength="22.33" lengthAdjust="spacingAndGlyphs">44,189</text>
<text x="803.74" y="191.98" font-size="7.88" fill="#353535" text-anchor="middle" stroke="#353535" stroke-width="0.16" textLength="22.33" lengthAdjust="spacingAndGlyphs">44,249</text>
<text x="827.00" y="201.84" font-size="7.88" fill="#353535" text-anchor="middle" stroke="#353535" stroke-width="0.16" textLength="22.33" lengthAdjust="spacingAndGlyphs">37,315</text>
<text x="850.27" y="198.41" font-size="7.88" fill="#353535" text-anchor="middle" stroke="#353535" stroke-width="0.16" textLength="22.33" lengthAdjust="spacingAndGlyphs">39,727</text>
<text x="873.54" y="201.88" font-size="7.88" fill="#353535" text-anchor="middle" stroke="#353535" stroke-width="0.16" textLength="22.33" lengthAdjust="spacingAndGlyphs">37,282</text>
<text x="896.81" y="201.41" font-size="7.88" fill="#353535" text-anchor="middle" stroke="#353535" stroke-width="0.16" textLength="22.33" lengthAdjust="spacingAndGlyphs">37,615</text>
<text x="920.08" y="199.53" font-size="7.88" fill="#353535" text-anchor="middle" stroke="#353535" stroke-width="0.16" textLength="22.33" lengthAdjust="spacingAndGlyphs">38,939</text>
<text x="943.35" y="210.02" font-size="7.88" fill="#353535" text-anchor="middle" stroke="#353535" stroke-width="0.16" textLength="22.33" lengthAdjust="spacingAndGlyphs">31,564</text>
<text x="966.62" y="211.43" font-size="7.88" fill="#353535" text-anchor="middle" stroke="#353535" stroke-width="0.16" textLength="22.33" lengthAdjust="spacingAndGlyphs">30,567</text>
<text x="989.89" y="216.86" font-size="7.88" fill="#353535" text-anchor="middle" stroke="#353535" stroke-width="0.16" textLength="22.33" lengthAdjust="spacingAndGlyphs">26,750</text>
<text x="1013.16" y="202.94" font-size="7.88" fill="#353535" text-anchor="middle" stroke="#353535" stroke-width="0.16" textLength="22.33" lengthAdjust="spacingAndGlyphs">36,538</text>
<text x="1036.43" y="217.52" font-size="7.88" fill="#353535" text-anchor="middle" stroke="#353535" stroke-width="0.16" textLength="22.33" lengthAdjust="spacingAndGlyphs">26,290</text>
<text x="1059.71" y="238.15" font-size="7.88" fill="#353535" text-anchor="middle" stroke="#353535" stroke-width="0.16" textLength="21.79" lengthAdjust="spacingAndGlyphs">11,782</text>
<text x="1082.98" y="229.09" font-size="7.88" fill="#353535" text-anchor="middle" stroke="#353535" stroke-width="0.16" textLength="22.33" lengthAdjust="spacingAndGlyphs">18,153</text>
<text x="1106.25" y="233.02" font-size="7.88" fill="#353535" text-anchor="middle" stroke="#353535" stroke-width="0.16" textLength="22.33" lengthAdjust="spacingAndGlyphs">15,386</text>
<text x="1129.52" y="232.58" font-size="7.88" fill="#353535" text-anchor="middle" stroke="#353535" stroke-width="0.16" textLength="22.33" lengthAdjust="spacingAndGlyphs">15,694</text>
<text x="1152.79" y="234.98" font-size="7.88" fill="#353535" text-anchor="middle" stroke="#353535" stroke-width="0.16" textLength="22.33" lengthAdjust="spacingAndGlyphs">14,007</text>
<text x="1176.06" y="235.53" font-size="7.88" fill="#353535" text-anchor="middle" stroke="#353535" stroke-width="0.16" textLength="22.33" lengthAdjust="spacingAndGlyphs">13,621</text>
<text x="1199.33" y="214.42" font-size="7.88" fill="#353535" text-anchor="middle" stroke="#353535" stroke-width="0.16" textLength="22.33" lengthAdjust="spacingAndGlyphs">28,464</text>
<text x="1222.60" y="233.36" font-size="7.88" fill="#353535" text-anchor="middle" stroke="#353535" stroke-width="0.16" textLength="22.33" lengthAdjust="spacingAndGlyphs">15,146</text>
<text x="1245.87" y="225.52" font-size="7.88" fill="#353535" text-anchor="middle" stroke="#353535" stroke-width="0.16" textLength="22.33" lengthAdjust="spacingAndGlyphs">20,661</text>
<text x="1269.14" y="225.92" font-size="7.88" fill="#353535" text-anchor="middle" stroke="#353535" stroke-width="0.16" textLength="22.33" lengthAdjust="spacingAndGlyphs">20,381</text>
<text x="1292.41" y="201.00" font-size="7.88" fill="#353535" text-anchor="middle" stroke="#353535" stroke-width="0.16" textLength="22.33" lengthAdjust="spacingAndGlyphs">37,904</text>
<text x="1315.68" y="214.11" font-size="7.88" fill="#353535" text-anchor="middle" stroke="#353535" stroke-width="0.16" textLength="22.33" lengthAdjust="spacingAndGlyphs">28,686</text>
<text x="1338.95" y="214.61" font-size="7.88" fill="#353535" text-anchor="middle" stroke="#353535" stroke-width="0.16" textLength="22.33" lengthAdjust="spacingAndGlyphs">28,333</text>
<text x="1362.22" y="218.90" font-size="7.88" fill="#353535" text-anchor="middle" stroke="#353535" stroke-width="0.16" textLength="22.33" lengthAdjust="spacingAndGlyphs">25,314</text>
<text x="1385.49" y="218.75" font-size="7.88" fill="#353535" text-anchor="middle" stroke="#353535" stroke-width="0.16" textLength="22.33" lengthAdjust="spacingAndGlyphs">25,424</text>
<text x="1408.76" y="254.90" font-size="7.88" fill="#353535" text-anchor="middle" stroke="#353535" stroke-width="0.16" textLength="4.06" lengthAdjust="spacingAndGlyphs">0</text>
<text x="1432.03" y="254.90" font-size="7.88" fill="#353535" text-anchor="middle" stroke="#353535" stroke-width="0.16" textLength="4.06" lengthAdjust="spacingAndGlyphs">0</text>
<text x="1455.30" y="254.90" font-size="7.88" fill="#353535" text-anchor="middle" stroke="#353535" stroke-width="0.16" textLength="4.06" lengthAdjust="spacingAndGlyphs">0</text>
<text x="1478.57" y="254.90" font-size="7.88" fill="#353535" text-anchor="middle" stroke="#353535" stroke-width="0.16" textLength="4.06" lengthAdjust="spacingAndGlyphs">0</text>
<text x="1501.84" y="254.90" font-size="7.88" fill="#353535" text-anchor="middle" stroke="#353535" stroke-width="0.16" textLength="4.06" lengthAdjust="spacingAndGlyphs">0</text>
<text x="594.30" y="247.43" font-size="7.88" fill="#353535" text-anchor="middle" stroke="#353535" stroke-width="0.16" textLength="18.27" lengthAdjust="spacingAndGlyphs">6,874</text>
<text x="617.57" y="283.59" font-size="7.88" fill="#353535" text-anchor="middle" stroke="#353535" stroke-width="0.16" textLength="20.70" lengthAdjust="spacingAndGlyphs">-5,901</text>
<text x="640.84" y="285.18" font-size="7.88" fill="#353535" text-anchor="middle" stroke="#353535" stroke-width="0.16" textLength="20.70" lengthAdjust="spacingAndGlyphs">-7,020</text>
<text x="664.12" y="278.46" font-size="7.88" fill="#353535" text-anchor="middle" stroke="#353535" stroke-width="0.16" textLength="20.70" lengthAdjust="spacingAndGlyphs">-2,294</text>
<text x="687.38" y="246.93" font-size="7.88" fill="#353535" text-anchor="middle" stroke="#353535" stroke-width="0.16" textLength="18.27" lengthAdjust="spacingAndGlyphs">7,223</text>
<text x="710.65" y="277.03" font-size="7.88" fill="#353535" text-anchor="middle" stroke="#353535" stroke-width="0.16" textLength="20.70" lengthAdjust="spacingAndGlyphs">-1,289</text>
<text x="733.92" y="248.53" font-size="7.88" fill="#353535" text-anchor="middle" stroke="#353535" stroke-width="0.16" textLength="18.27" lengthAdjust="spacingAndGlyphs">6,094</text>
<text x="757.19" y="295.54" font-size="7.88" fill="#353535" text-anchor="middle" stroke="#353535" stroke-width="0.16" textLength="24.76" lengthAdjust="spacingAndGlyphs">-14,306</text>
<text x="780.47" y="242.75" font-size="7.88" fill="#353535" text-anchor="middle" stroke="#353535" stroke-width="0.16" textLength="22.33" lengthAdjust="spacingAndGlyphs">10,159</text>
<text x="803.74" y="257.11" font-size="7.88" fill="#353535" text-anchor="middle" stroke="#353535" stroke-width="0.16" textLength="8.12" lengthAdjust="spacingAndGlyphs">60</text>
<text x="827.00" y="285.06" font-size="7.88" fill="#353535" text-anchor="middle" stroke="#353535" stroke-width="0.16" textLength="20.70" lengthAdjust="spacingAndGlyphs">-6,934</text>
<text x="850.27" y="253.77" font-size="7.88" fill="#353535" text-anchor="middle" stroke="#353535" stroke-width="0.16" textLength="18.27" lengthAdjust="spacingAndGlyphs">2,412</text>
<text x="873.54" y="278.68" font-size="7.88" fill="#353535" text-anchor="middle" stroke="#353535" stroke-width="0.16" textLength="20.70" lengthAdjust="spacingAndGlyphs">-2,445</text>
<text x="896.81" y="256.73" font-size="7.88" fill="#353535" text-anchor="middle" stroke="#353535" stroke-width="0.16" textLength="12.18" lengthAdjust="spacingAndGlyphs">333</text>
<text x="920.08" y="255.32" font-size="7.88" fill="#353535" text-anchor="middle" stroke="#353535" stroke-width="0.16" textLength="18.27" lengthAdjust="spacingAndGlyphs">1,324</text>
<text x="943.35" y="285.69" font-size="7.88" fill="#353535" text-anchor="middle" stroke="#353535" stroke-width="0.16" textLength="20.70" lengthAdjust="spacingAndGlyphs">-7,375</text>
<text x="966.62" y="276.62" font-size="7.88" fill="#353535" text-anchor="middle" stroke="#353535" stroke-width="0.16" textLength="14.61" lengthAdjust="spacingAndGlyphs">-997</text>
<text x="989.89" y="280.63" font-size="7.88" fill="#353535" text-anchor="middle" stroke="#353535" stroke-width="0.16" textLength="20.70" lengthAdjust="spacingAndGlyphs">-3,817</text>
<text x="1013.16" y="243.28" font-size="7.88" fill="#353535" text-anchor="middle" stroke="#353535" stroke-width="0.16" textLength="18.27" lengthAdjust="spacingAndGlyphs">9,788</text>
<text x="1036.43" y="289.77" font-size="7.88" fill="#353535" text-anchor="middle" stroke="#353535" stroke-width="0.16" textLength="24.76" lengthAdjust="spacingAndGlyphs">-10,248</text>
<text x="1059.71" y="295.83" font-size="7.88" fill="#353535" text-anchor="middle" stroke="#353535" stroke-width="0.16" textLength="24.76" lengthAdjust="spacingAndGlyphs">-14,508</text>
<text x="1082.98" y="248.14" font-size="7.88" fill="#353535" text-anchor="middle" stroke="#353535" stroke-width="0.16" textLength="18.27" lengthAdjust="spacingAndGlyphs">6,371</text>
<text x="1106.25" y="279.13" font-size="7.88" fill="#353535" text-anchor="middle" stroke="#353535" stroke-width="0.16" textLength="20.70" lengthAdjust="spacingAndGlyphs">-2,767</text>
<text x="1129.52" y="256.76" font-size="7.88" fill="#353535" text-anchor="middle" stroke="#353535" stroke-width="0.16" textLength="12.18" lengthAdjust="spacingAndGlyphs">308</text>
<text x="1152.79" y="277.60" font-size="7.88" fill="#353535" text-anchor="middle" stroke="#353535" stroke-width="0.16" textLength="20.70" lengthAdjust="spacingAndGlyphs">-1,687</text>
<text x="1176.06" y="275.75" font-size="7.88" fill="#353535" text-anchor="middle" stroke="#353535" stroke-width="0.16" textLength="14.61" lengthAdjust="spacingAndGlyphs">-386</text>
<text x="1199.33" y="236.09" font-size="7.88" fill="#353535" text-anchor="middle" stroke="#353535" stroke-width="0.16" textLength="22.33" lengthAdjust="spacingAndGlyphs">14,843</text>
<text x="1222.60" y="294.14" font-size="7.88" fill="#353535" text-anchor="middle" stroke="#353535" stroke-width="0.16" textLength="24.76" lengthAdjust="spacingAndGlyphs">-13,318</text>
<text x="1245.87" y="249.36" font-size="7.88" fill="#353535" text-anchor="middle" stroke="#353535" stroke-width="0.16" textLength="18.27" lengthAdjust="spacingAndGlyphs">5,515</text>
<text x="1269.14" y="275.60" font-size="7.88" fill="#353535" text-anchor="middle" stroke="#353535" stroke-width="0.16" textLength="14.61" lengthAdjust="spacingAndGlyphs">-280</text>
<text x="1292.41" y="232.28" font-size="7.88" fill="#353535" text-anchor="middle" stroke="#353535" stroke-width="0.16" textLength="22.33" lengthAdjust="spacingAndGlyphs">17,523</text>
<text x="1315.68" y="288.31" font-size="7.88" fill="#353535" text-anchor="middle" stroke="#353535" stroke-width="0.16" textLength="20.70" lengthAdjust="spacingAndGlyphs">-9,218</text>
<text x="1338.95" y="275.70" font-size="7.88" fill="#353535" text-anchor="middle" stroke="#353535" stroke-width="0.16" textLength="14.61" lengthAdjust="spacingAndGlyphs">-353</text>
<text x="1362.22" y="279.49" font-size="7.88" fill="#353535" text-anchor="middle" stroke="#353535" stroke-width="0.16" textLength="20.70" lengthAdjust="spacingAndGlyphs">-3,019</text>
<text x="1385.49" y="257.04" font-size="7.88" fill="#353535" text-anchor="middle" stroke="#353535" stroke-width="0.16" textLength="11.64" lengthAdjust="spacingAndGlyphs">110</text>
<rect x="490.00" y="318.60" width="17.00" height="4.40" fill="#ed7d31"/>
<line x1="489.40" y1="333.50" x2="508.30" y2="333.50" stroke="#3f83c9" stroke-width="2.00"/>
<circle cx="498.8" cy="333.5" r="1.9" fill="#3f83c9"/>
<text x="509.00" y="323.30" font-size="7.78" fill="#353535" text-anchor="start" stroke="#353535" stroke-width="0.16" textLength="48.82" lengthAdjust="spacingAndGlyphs">Stück Zuwachs</text>
<text x="509.00" y="336.50" font-size="7.78" fill="#353535" text-anchor="start" stroke="#353535" stroke-width="0.16" textLength="45.21" lengthAdjust="spacingAndGlyphs">Stück Gesamt</text>
<rect x="1059.80" y="338.60" width="16.50" height="4.00" fill="#ed7d31"/>
<text x="1078.80" y="343.40" font-size="7.78" fill="#353535" text-anchor="start" stroke="#353535" stroke-width="0.16" textLength="48.82" lengthAdjust="spacingAndGlyphs">Stück Zuwachs</text>
<line x1="1058.40" y1="355.30" x2="1077.60" y2="355.30" stroke="#3f83c9" stroke-width="2.00"/>
<circle cx="1068" cy="355.3" r="1.9" fill="#3f83c9"/>
<text x="1078.80" y="357.60" font-size="7.78" fill="#353535" text-anchor="start" stroke="#353535" stroke-width="0.16" textLength="45.21" lengthAdjust="spacingAndGlyphs">Stück Gesamt</text>
<text x="1030.00" y="159.00" font-size="10.40" fill="#4a4a4a" text-anchor="start" font-weight="bold" stroke="#4a4a4a" stroke-width="0.15" textLength="105.40" lengthAdjust="spacingAndGlyphs">Diagramm Stückzahl</text>
<line x1="514.50" y1="413.30" x2="1486.00" y2="413.30" stroke="#d9d9d9" stroke-width="1.00"/>
<line x1="514.50" y1="447.16" x2="1486.00" y2="447.16" stroke="#d9d9d9" stroke-width="1.00"/>
<line x1="514.50" y1="481.02" x2="1486.00" y2="481.02" stroke="#d9d9d9" stroke-width="1.00"/>
<line x1="514.50" y1="514.88" x2="1486.00" y2="514.88" stroke="#d9d9d9" stroke-width="1.00"/>
<line x1="514.50" y1="548.74" x2="1486.00" y2="548.74" stroke="#d9d9d9" stroke-width="1.00"/>
<line x1="514.50" y1="582.60" x2="1486.00" y2="582.60" stroke="#d9d9d9" stroke-width="1.00"/>
<line x1="514.50" y1="616.46" x2="1486.00" y2="616.46" stroke="#d9d9d9" stroke-width="1.00"/>
<line x1="514.50" y1="650.50" x2="1486.00" y2="650.50" stroke="#d9d9d9" stroke-width="1.00"/>
<line x1="423.40" y1="673.10" x2="1486.00" y2="673.10" stroke="#d9d9d9" stroke-width="1.00"/>
<line x1="423.40" y1="685.40" x2="1486.00" y2="685.40" stroke="#d9d9d9" stroke-width="1.00"/>
<line x1="423.40" y1="698.20" x2="1486.00" y2="698.20" stroke="#d9d9d9" stroke-width="1.00"/>
<line x1="423.40" y1="673.10" x2="423.40" y2="698.20" stroke="#d9d9d9" stroke-width="1.00"/>
<line x1="514.50" y1="650.50" x2="514.50" y2="698.20" stroke="#d9d9d9" stroke-width="1.00"/>
<line x1="538.66" y1="650.50" x2="538.66" y2="698.20" stroke="#d9d9d9" stroke-width="1.00"/>
<line x1="562.82" y1="650.50" x2="562.82" y2="698.20" stroke="#d9d9d9" stroke-width="1.00"/>
<line x1="586.98" y1="650.50" x2="586.98" y2="698.20" stroke="#d9d9d9" stroke-width="1.00"/>
<line x1="611.14" y1="650.50" x2="611.14" y2="698.20" stroke="#d9d9d9" stroke-width="1.00"/>
<line x1="635.30" y1="650.50" x2="635.30" y2="698.20" stroke="#d9d9d9" stroke-width="1.00"/>
<line x1="659.46" y1="650.50" x2="659.46" y2="698.20" stroke="#d9d9d9" stroke-width="1.00"/>
<line x1="683.62" y1="650.50" x2="683.62" y2="698.20" stroke="#d9d9d9" stroke-width="1.00"/>
<line x1="707.78" y1="650.50" x2="707.78" y2="698.20" stroke="#d9d9d9" stroke-width="1.00"/>
<line x1="731.94" y1="650.50" x2="731.94" y2="698.20" stroke="#d9d9d9" stroke-width="1.00"/>
<line x1="756.10" y1="650.50" x2="756.10" y2="698.20" stroke="#d9d9d9" stroke-width="1.00"/>
<line x1="780.26" y1="650.50" x2="780.26" y2="698.20" stroke="#d9d9d9" stroke-width="1.00"/>
<line x1="804.42" y1="650.50" x2="804.42" y2="698.20" stroke="#d9d9d9" stroke-width="1.00"/>
<line x1="828.58" y1="650.50" x2="828.58" y2="698.20" stroke="#d9d9d9" stroke-width="1.00"/>
<line x1="852.74" y1="650.50" x2="852.74" y2="698.20" stroke="#d9d9d9" stroke-width="1.00"/>
<line x1="876.90" y1="650.50" x2="876.90" y2="698.20" stroke="#d9d9d9" stroke-width="1.00"/>
<line x1="901.06" y1="650.50" x2="901.06" y2="698.20" stroke="#d9d9d9" stroke-width="1.00"/>
<line x1="925.22" y1="650.50" x2="925.22" y2="698.20" stroke="#d9d9d9" stroke-width="1.00"/>
<line x1="949.38" y1="650.50" x2="949.38" y2="698.20" stroke="#d9d9d9" stroke-width="1.00"/>
<line x1="973.54" y1="650.50" x2="973.54" y2="698.20" stroke="#d9d9d9" stroke-width="1.00"/>
<line x1="997.70" y1="650.50" x2="997.70" y2="698.20" stroke="#d9d9d9" stroke-width="1.00"/>
<line x1="1021.86" y1="650.50" x2="1021.86" y2="698.20" stroke="#d9d9d9" stroke-width="1.00"/>
<line x1="1046.02" y1="650.50" x2="1046.02" y2="698.20" stroke="#d9d9d9" stroke-width="1.00"/>
<line x1="1070.18" y1="650.50" x2="1070.18" y2="698.20" stroke="#d9d9d9" stroke-width="1.00"/>
<line x1="1094.34" y1="650.50" x2="1094.34" y2="698.20" stroke="#d9d9d9" stroke-width="1.00"/>
<line x1="1118.50" y1="650.50" x2="1118.50" y2="698.20" stroke="#d9d9d9" stroke-width="1.00"/>
<line x1="1142.66" y1="650.50" x2="1142.66" y2="698.20" stroke="#d9d9d9" stroke-width="1.00"/>
<line x1="1166.82" y1="650.50" x2="1166.82" y2="698.20" stroke="#d9d9d9" stroke-width="1.00"/>
<line x1="1190.98" y1="650.50" x2="1190.98" y2="698.20" stroke="#d9d9d9" stroke-width="1.00"/>
<line x1="1215.14" y1="650.50" x2="1215.14" y2="698.20" stroke="#d9d9d9" stroke-width="1.00"/>
<line x1="1239.30" y1="650.50" x2="1239.30" y2="698.20" stroke="#d9d9d9" stroke-width="1.00"/>
<line x1="1263.46" y1="650.50" x2="1263.46" y2="698.20" stroke="#d9d9d9" stroke-width="1.00"/>
<line x1="1287.62" y1="650.50" x2="1287.62" y2="698.20" stroke="#d9d9d9" stroke-width="1.00"/>
<line x1="1311.78" y1="650.50" x2="1311.78" y2="698.20" stroke="#d9d9d9" stroke-width="1.00"/>
<line x1="1335.94" y1="650.50" x2="1335.94" y2="698.20" stroke="#d9d9d9" stroke-width="1.00"/>
<line x1="1360.10" y1="650.50" x2="1360.10" y2="698.20" stroke="#d9d9d9" stroke-width="1.00"/>
<line x1="1384.26" y1="650.50" x2="1384.26" y2="698.20" stroke="#d9d9d9" stroke-width="1.00"/>
<line x1="1408.42" y1="650.50" x2="1408.42" y2="698.20" stroke="#d9d9d9" stroke-width="1.00"/>
<line x1="1432.58" y1="650.50" x2="1432.58" y2="698.20" stroke="#d9d9d9" stroke-width="1.00"/>
<line x1="1456.74" y1="650.50" x2="1456.74" y2="698.20" stroke="#d9d9d9" stroke-width="1.00"/>
<line x1="1480.90" y1="650.50" x2="1480.90" y2="698.20" stroke="#d9d9d9" stroke-width="1.00"/>
<line x1="1505.06" y1="650.50" x2="1505.06" y2="698.20" stroke="#d9d9d9" stroke-width="1.00"/>
<rect x="547.24" y="554.76" width="7.00" height="27.84" fill="#ed7d31"/>
<rect x="571.40" y="582.60" width="7.00" height="3.30" fill="#ed7d31"/>
<rect x="595.56" y="582.60" width="7.00" height="18.79" fill="#ed7d31"/>
<rect x="619.72" y="582.60" width="7.00" height="8.20" fill="#ed7d31"/>
<rect x="643.88" y="582.60" width="7.00" height="9.80" fill="#ed7d31"/>
<rect x="668.04" y="582.60" width="7.00" height="10.84" fill="#ed7d31"/>
<rect x="692.20" y="577.40" width="7.00" height="5.20" fill="#ed7d31"/>
<rect x="716.36" y="582.60" width="7.00" height="38.51" fill="#ed7d31"/>
<rect x="740.52" y="564.87" width="7.00" height="17.73" fill="#ed7d31"/>
<rect x="764.68" y="573.89" width="7.00" height="8.71" fill="#ed7d31"/>
<rect x="788.84" y="582.60" width="7.00" height="21.31" fill="#ed7d31"/>
<rect x="813.00" y="582.60" width="7.00" height="5.93" fill="#ed7d31"/>
<rect x="837.16" y="582.60" width="7.00" height="0.63" fill="#ed7d31"/>
<rect x="861.32" y="578.24" width="7.00" height="4.36" fill="#ed7d31"/>
<rect x="885.48" y="582.60" width="7.00" height="4.92" fill="#ed7d31"/>
<rect x="909.64" y="582.60" width="7.00" height="10.21" fill="#ed7d31"/>
<rect x="933.80" y="581.11" width="7.00" height="1.49" fill="#ed7d31"/>
<rect x="957.96" y="582.60" width="7.00" height="10.01" fill="#ed7d31"/>
<rect x="982.12" y="571.87" width="7.00" height="10.73" fill="#ed7d31"/>
<rect x="1006.28" y="582.60" width="7.00" height="16.55" fill="#ed7d31"/>
<rect x="1030.44" y="582.60" width="7.00" height="22.08" fill="#ed7d31"/>
<rect x="1054.60" y="574.41" width="7.00" height="8.19" fill="#ed7d31"/>
<rect x="1078.76" y="582.60" width="7.00" height="4.26" fill="#ed7d31"/>
<rect x="1102.92" y="575.97" width="7.00" height="6.63" fill="#ed7d31"/>
<rect x="1127.08" y="582.60" width="7.00" height="8.79" fill="#ed7d31"/>
<rect x="1151.24" y="582.60" width="7.00" height="1.27" fill="#ed7d31"/>
<rect x="1175.40" y="543.97" width="7.00" height="38.63" fill="#ed7d31"/>
<rect x="1199.56" y="582.60" width="7.00" height="31.55" fill="#ed7d31"/>
<rect x="1223.72" y="548.35" width="7.00" height="34.25" fill="#ed7d31"/>
<rect x="1247.88" y="582.60" width="7.00" height="3.18" fill="#ed7d31"/>
<rect x="1272.04" y="558.85" width="7.00" height="23.75" fill="#ed7d31"/>
<rect x="1296.20" y="582.60" width="7.00" height="16.34" fill="#ed7d31"/>
<rect x="1320.36" y="581.02" width="7.00" height="1.58" fill="#ed7d31"/>
<rect x="1344.52" y="582.60" width="7.00" height="5.04" fill="#ed7d31"/>
<rect x="1368.68" y="580.05" width="7.00" height="2.55" fill="#ed7d31"/>
<polyline fill="none" stroke="#3f83c9" stroke-width="2.30" stroke-linejoin="round" points="526.58,454.15 550.74,426.19 574.90,429.51 599.06,448.38 623.22,456.61 647.38,466.45 671.54,477.33 695.70,472.11 719.86,510.78 744.02,492.98 768.18,484.23 792.34,505.63 816.50,511.58 840.66,512.22 864.82,507.84 888.98,512.78 913.14,523.04 937.30,521.54 961.46,531.59 985.62,520.82 1009.78,537.44 1033.94,559.61 1058.10,551.39 1082.26,555.67 1106.42,549.01 1130.58,557.84 1154.74,559.11 1178.90,520.32 1203.06,552.00 1227.22,517.61 1251.38,520.80 1275.54,496.95 1299.70,513.36 1323.86,511.77 1348.02,516.83 1372.18,514.27 1396.34,582.75 1420.50,582.75 1444.66,582.75 1468.82,582.75 1492.98,582.75 1517.14,582.75"/>
<circle cx="526.58" cy="454.15" r="2.3" fill="#4a8bd0" stroke="#3f83c9" stroke-width="0.8"/>
<circle cx="550.74" cy="426.19" r="2.3" fill="#4a8bd0" stroke="#3f83c9" stroke-width="0.8"/>
<circle cx="574.90" cy="429.51" r="2.3" fill="#4a8bd0" stroke="#3f83c9" stroke-width="0.8"/>
<circle cx="599.06" cy="448.38" r="2.3" fill="#4a8bd0" stroke="#3f83c9" stroke-width="0.8"/>
<circle cx="623.22" cy="456.61" r="2.3" fill="#4a8bd0" stroke="#3f83c9" stroke-width="0.8"/>
<circle cx="647.38" cy="466.45" r="2.3" fill="#4a8bd0" stroke="#3f83c9" stroke-width="0.8"/>
<circle cx="671.54" cy="477.33" r="2.3" fill="#4a8bd0" stroke="#3f83c9" stroke-width="0.8"/>
<circle cx="695.70" cy="472.11" r="2.3" fill="#4a8bd0" stroke="#3f83c9" stroke-width="0.8"/>
<circle cx="719.86" cy="510.78" r="2.3" fill="#4a8bd0" stroke="#3f83c9" stroke-width="0.8"/>
<circle cx="744.02" cy="492.98" r="2.3" fill="#4a8bd0" stroke="#3f83c9" stroke-width="0.8"/>
<circle cx="768.18" cy="484.23" r="2.3" fill="#4a8bd0" stroke="#3f83c9" stroke-width="0.8"/>
<circle cx="792.34" cy="505.63" r="2.3" fill="#4a8bd0" stroke="#3f83c9" stroke-width="0.8"/>
<circle cx="816.50" cy="511.58" r="2.3" fill="#4a8bd0" stroke="#3f83c9" stroke-width="0.8"/>
<circle cx="840.66" cy="512.22" r="2.3" fill="#4a8bd0" stroke="#3f83c9" stroke-width="0.8"/>
<circle cx="864.82" cy="507.84" r="2.3" fill="#4a8bd0" stroke="#3f83c9" stroke-width="0.8"/>
<circle cx="888.98" cy="512.78" r="2.3" fill="#4a8bd0" stroke="#3f83c9" stroke-width="0.8"/>
<circle cx="913.14" cy="523.04" r="2.3" fill="#4a8bd0" stroke="#3f83c9" stroke-width="0.8"/>
<circle cx="937.30" cy="521.54" r="2.3" fill="#4a8bd0" stroke="#3f83c9" stroke-width="0.8"/>
<circle cx="961.46" cy="531.59" r="2.3" fill="#4a8bd0" stroke="#3f83c9" stroke-width="0.8"/>
<circle cx="985.62" cy="520.82" r="2.3" fill="#4a8bd0" stroke="#3f83c9" stroke-width="0.8"/>
<circle cx="1009.78" cy="537.44" r="2.3" fill="#4a8bd0" stroke="#3f83c9" stroke-width="0.8"/>
<circle cx="1033.94" cy="559.61" r="2.3" fill="#4a8bd0" stroke="#3f83c9" stroke-width="0.8"/>
<circle cx="1058.10" cy="551.39" r="2.3" fill="#4a8bd0" stroke="#3f83c9" stroke-width="0.8"/>
<circle cx="1082.26" cy="555.67" r="2.3" fill="#4a8bd0" stroke="#3f83c9" stroke-width="0.8"/>
<circle cx="1106.42" cy="549.01" r="2.3" fill="#4a8bd0" stroke="#3f83c9" stroke-width="0.8"/>
<circle cx="1130.58" cy="557.84" r="2.3" fill="#4a8bd0" stroke="#3f83c9" stroke-width="0.8"/>
<circle cx="1154.74" cy="559.11" r="2.3" fill="#4a8bd0" stroke="#3f83c9" stroke-width="0.8"/>
<circle cx="1178.90" cy="520.32" r="2.3" fill="#4a8bd0" stroke="#3f83c9" stroke-width="0.8"/>
<circle cx="1203.06" cy="552.00" r="2.3" fill="#4a8bd0" stroke="#3f83c9" stroke-width="0.8"/>
<circle cx="1227.22" cy="517.61" r="2.3" fill="#4a8bd0" stroke="#3f83c9" stroke-width="0.8"/>
<circle cx="1251.38" cy="520.80" r="2.3" fill="#4a8bd0" stroke="#3f83c9" stroke-width="0.8"/>
<circle cx="1275.54" cy="496.95" r="2.3" fill="#4a8bd0" stroke="#3f83c9" stroke-width="0.8"/>
<circle cx="1299.70" cy="513.36" r="2.3" fill="#4a8bd0" stroke="#3f83c9" stroke-width="0.8"/>
<circle cx="1323.86" cy="511.77" r="2.3" fill="#4a8bd0" stroke="#3f83c9" stroke-width="0.8"/>
<circle cx="1348.02" cy="516.83" r="2.3" fill="#4a8bd0" stroke="#3f83c9" stroke-width="0.8"/>
<circle cx="1372.18" cy="514.27" r="2.3" fill="#4a8bd0" stroke="#3f83c9" stroke-width="0.8"/>
<circle cx="1396.34" cy="582.75" r="2.3" fill="#4a8bd0" stroke="#3f83c9" stroke-width="0.8"/>
<circle cx="1420.50" cy="582.75" r="2.3" fill="#4a8bd0" stroke="#3f83c9" stroke-width="0.8"/>
<circle cx="1444.66" cy="582.75" r="2.3" fill="#4a8bd0" stroke="#3f83c9" stroke-width="0.8"/>
<circle cx="1468.82" cy="582.75" r="2.3" fill="#4a8bd0" stroke="#3f83c9" stroke-width="0.8"/>
<circle cx="1492.98" cy="582.75" r="2.3" fill="#4a8bd0" stroke="#3f83c9" stroke-width="0.8"/>
<circle cx="1517.14" cy="582.75" r="2.3" fill="#4a8bd0" stroke="#3f83c9" stroke-width="0.8"/>
<text x="507.00" y="416.00" font-size="8.53" fill="#353535" text-anchor="end" stroke="#353535" stroke-width="0.16" textLength="52.72" lengthAdjust="spacingAndGlyphs">10,00,000.00 €</text>
<text x="507.00" y="449.86" font-size="8.53" fill="#353535" text-anchor="end" stroke="#353535" stroke-width="0.16" textLength="48.32" lengthAdjust="spacingAndGlyphs">8,00,000.00 €</text>
<text x="507.00" y="483.72" font-size="8.53" fill="#353535" text-anchor="end" stroke="#353535" stroke-width="0.16" textLength="48.32" lengthAdjust="spacingAndGlyphs">6,00,000.00 €</text>
<text x="507.00" y="517.58" font-size="8.53" fill="#353535" text-anchor="end" stroke="#353535" stroke-width="0.16" textLength="48.32" lengthAdjust="spacingAndGlyphs">4,00,000.00 €</text>
<text x="507.00" y="551.44" font-size="8.53" fill="#353535" text-anchor="end" stroke="#353535" stroke-width="0.16" textLength="48.32" lengthAdjust="spacingAndGlyphs">2,00,000.00 €</text>
<text x="507.00" y="585.30" font-size="8.53" fill="#353535" text-anchor="end" stroke="#353535" stroke-width="0.16" textLength="21.96" lengthAdjust="spacingAndGlyphs">0.00 €</text>
<text x="507.00" y="619.16" font-size="8.53" fill="#353535" text-anchor="end" stroke="#353535" stroke-width="0.16" textLength="50.95" lengthAdjust="spacingAndGlyphs">-2,00,000.00 €</text>
<text x="507.00" y="653.02" font-size="8.53" fill="#353535" text-anchor="end" stroke="#353535" stroke-width="0.16" textLength="50.95" lengthAdjust="spacingAndGlyphs">-4,00,000.00 €</text>
<text x="526.58" y="660.00" font-size="7.78" fill="#353535" text-anchor="middle" stroke="#353535" stroke-width="0.16" textLength="20.81" lengthAdjust="spacingAndGlyphs">02-01-</text>
<text x="526.58" y="669.60" font-size="7.78" fill="#353535" text-anchor="middle" stroke="#353535" stroke-width="0.16" textLength="16.02" lengthAdjust="spacingAndGlyphs">2022</text>
<text x="526.58" y="694.10" font-size="7.78" fill="#353535" text-anchor="middle" stroke="#353535" stroke-width="0.16" textLength="20.02" lengthAdjust="spacingAndGlyphs">7,56,4</text>
<text x="550.74" y="660.00" font-size="7.78" fill="#353535" text-anchor="middle" stroke="#353535" stroke-width="0.16" textLength="20.81" lengthAdjust="spacingAndGlyphs">09-01-</text>
<text x="550.74" y="669.60" font-size="7.78" fill="#353535" text-anchor="middle" stroke="#353535" stroke-width="0.16" textLength="16.02" lengthAdjust="spacingAndGlyphs">2022</text>
<text x="550.74" y="681.70" font-size="7.78" fill="#353535" text-anchor="middle" stroke="#353535" stroke-width="0.16" textLength="20.02" lengthAdjust="spacingAndGlyphs">1,64,4</text>
<text x="550.74" y="694.10" font-size="7.78" fill="#353535" text-anchor="middle" stroke="#353535" stroke-width="0.16" textLength="20.02" lengthAdjust="spacingAndGlyphs">9,20,9</text>
<text x="574.90" y="660.00" font-size="7.78" fill="#353535" text-anchor="middle" stroke="#353535" stroke-width="0.16" textLength="20.81" lengthAdjust="spacingAndGlyphs">16-01-</text>
<text x="574.90" y="669.60" font-size="7.78" fill="#353535" text-anchor="middle" stroke="#353535" stroke-width="0.16" textLength="16.02" lengthAdjust="spacingAndGlyphs">2022</text>
<text x="574.90" y="681.70" font-size="7.78" fill="#353535" text-anchor="middle" stroke="#353535" stroke-width="0.16" textLength="20.42" lengthAdjust="spacingAndGlyphs">-19,50</text>
<text x="574.90" y="694.10" font-size="7.78" fill="#353535" text-anchor="middle" stroke="#353535" stroke-width="0.16" textLength="20.02" lengthAdjust="spacingAndGlyphs">9,01,4</text>
<text x="599.06" y="660.00" font-size="7.78" fill="#353535" text-anchor="middle" stroke="#353535" stroke-width="0.16" textLength="20.81" lengthAdjust="spacingAndGlyphs">23-01-</text>
<text x="599.06" y="669.60" font-size="7.78" fill="#353535" text-anchor="middle" stroke="#353535" stroke-width="0.16" textLength="16.02" lengthAdjust="spacingAndGlyphs">2022</text>
<text x="599.06" y="681.70" font-size="7.78" fill="#353535" text-anchor="middle" stroke="#353535" stroke-width="0.16" textLength="18.41" lengthAdjust="spacingAndGlyphs">-1,10,</text>
<text x="599.06" y="694.10" font-size="7.78" fill="#353535" text-anchor="middle" stroke="#353535" stroke-width="0.16" textLength="20.02" lengthAdjust="spacingAndGlyphs">7,90,4</text>
<text x="623.22" y="660.00" font-size="7.78" fill="#353535" text-anchor="middle" stroke="#353535" stroke-width="0.16" textLength="20.81" lengthAdjust="spacingAndGlyphs">30-01-</text>
<text x="623.22" y="669.60" font-size="7.78" fill="#353535" text-anchor="middle" stroke="#353535" stroke-width="0.16" textLength="16.02" lengthAdjust="spacingAndGlyphs">2022</text>
<text x="623.22" y="681.70" font-size="7.78" fill="#353535" text-anchor="middle" stroke="#353535" stroke-width="0.16" textLength="20.42" lengthAdjust="spacingAndGlyphs">-48,41</text>
<text x="623.22" y="694.10" font-size="7.78" fill="#353535" text-anchor="middle" stroke="#353535" stroke-width="0.16" textLength="20.02" lengthAdjust="spacingAndGlyphs">7,42,0</text>
<text x="647.38" y="660.00" font-size="7.78" fill="#353535" text-anchor="middle" stroke="#353535" stroke-width="0.16" textLength="20.81" lengthAdjust="spacingAndGlyphs">06-02-</text>
<text x="647.38" y="669.60" font-size="7.78" fill="#353535" text-anchor="middle" stroke="#353535" stroke-width="0.16" textLength="16.02" lengthAdjust="spacingAndGlyphs">2022</text>
<text x="647.38" y="681.70" font-size="7.78" fill="#353535" text-anchor="middle" stroke="#353535" stroke-width="0.16" textLength="20.42" lengthAdjust="spacingAndGlyphs">-57,90</text>
<text x="647.38" y="694.10" font-size="7.78" fill="#353535" text-anchor="middle" stroke="#353535" stroke-width="0.16" textLength="20.02" lengthAdjust="spacingAndGlyphs">6,84,1</text>
<text x="671.54" y="660.00" font-size="7.78" fill="#353535" text-anchor="middle" stroke="#353535" stroke-width="0.16" textLength="20.81" lengthAdjust="spacingAndGlyphs">13-02-</text>
<text x="671.54" y="669.60" font-size="7.78" fill="#353535" text-anchor="middle" stroke="#353535" stroke-width="0.16" textLength="16.02" lengthAdjust="spacingAndGlyphs">2022</text>
<text x="671.54" y="681.70" font-size="7.78" fill="#353535" text-anchor="middle" stroke="#353535" stroke-width="0.16" textLength="20.42" lengthAdjust="spacingAndGlyphs">-64,02</text>
<text x="671.54" y="694.10" font-size="7.78" fill="#353535" text-anchor="middle" stroke="#353535" stroke-width="0.16" textLength="20.02" lengthAdjust="spacingAndGlyphs">6,20,0</text>
<text x="695.70" y="660.00" font-size="7.78" fill="#353535" text-anchor="middle" stroke="#353535" stroke-width="0.16" textLength="20.81" lengthAdjust="spacingAndGlyphs">20-02-</text>
<text x="695.70" y="669.60" font-size="7.78" fill="#353535" text-anchor="middle" stroke="#353535" stroke-width="0.16" textLength="16.02" lengthAdjust="spacingAndGlyphs">2022</text>
<text x="695.70" y="681.70" font-size="7.78" fill="#353535" text-anchor="middle" stroke="#353535" stroke-width="0.16" textLength="22.02" lengthAdjust="spacingAndGlyphs">30,716</text>
<text x="695.70" y="694.10" font-size="7.78" fill="#353535" text-anchor="middle" stroke="#353535" stroke-width="0.16" textLength="20.02" lengthAdjust="spacingAndGlyphs">6,50,8</text>
<text x="719.86" y="660.00" font-size="7.78" fill="#353535" text-anchor="middle" stroke="#353535" stroke-width="0.16" textLength="20.81" lengthAdjust="spacingAndGlyphs">27-02-</text>
<text x="719.86" y="669.60" font-size="7.78" fill="#353535" text-anchor="middle" stroke="#353535" stroke-width="0.16" textLength="16.02" lengthAdjust="spacingAndGlyphs">2022</text>
<text x="719.86" y="681.70" font-size="7.78" fill="#353535" text-anchor="middle" stroke="#353535" stroke-width="0.16" textLength="18.41" lengthAdjust="spacingAndGlyphs">-2,27,</text>
<text x="719.86" y="694.10" font-size="7.78" fill="#353535" text-anchor="middle" stroke="#353535" stroke-width="0.16" textLength="20.02" lengthAdjust="spacingAndGlyphs">4,23,3</text>
<text x="744.02" y="660.00" font-size="7.78" fill="#353535" text-anchor="middle" stroke="#353535" stroke-width="0.16" textLength="20.81" lengthAdjust="spacingAndGlyphs">06-03-</text>
<text x="744.02" y="669.60" font-size="7.78" fill="#353535" text-anchor="middle" stroke="#353535" stroke-width="0.16" textLength="16.02" lengthAdjust="spacingAndGlyphs">2022</text>
<text x="744.02" y="681.70" font-size="7.78" fill="#353535" text-anchor="middle" stroke="#353535" stroke-width="0.16" textLength="20.02" lengthAdjust="spacingAndGlyphs">1,04,7</text>
<text x="744.02" y="694.10" font-size="7.78" fill="#353535" text-anchor="middle" stroke="#353535" stroke-width="0.16" textLength="20.02" lengthAdjust="spacingAndGlyphs">5,28,0</text>
<text x="768.18" y="660.00" font-size="7.78" fill="#353535" text-anchor="middle" stroke="#353535" stroke-width="0.16" textLength="20.81" lengthAdjust="spacingAndGlyphs">13-03-</text>
<text x="768.18" y="669.60" font-size="7.78" fill="#353535" text-anchor="middle" stroke="#353535" stroke-width="0.16" textLength="16.02" lengthAdjust="spacingAndGlyphs">2022</text>
<text x="768.18" y="681.70" font-size="7.78" fill="#353535" text-anchor="middle" stroke="#353535" stroke-width="0.16" textLength="22.02" lengthAdjust="spacingAndGlyphs">51,435</text>
<text x="768.18" y="694.10" font-size="7.78" fill="#353535" text-anchor="middle" stroke="#353535" stroke-width="0.16" textLength="20.02" lengthAdjust="spacingAndGlyphs">5,79,5</text>
<text x="792.34" y="660.00" font-size="7.78" fill="#353535" text-anchor="middle" stroke="#353535" stroke-width="0.16" textLength="20.81" lengthAdjust="spacingAndGlyphs">20-03-</text>
<text x="792.34" y="669.60" font-size="7.78" fill="#353535" text-anchor="middle" stroke="#353535" stroke-width="0.16" textLength="16.02" lengthAdjust="spacingAndGlyphs">2022</text>
<text x="792.34" y="681.70" font-size="7.78" fill="#353535" text-anchor="middle" stroke="#353535" stroke-width="0.16" textLength="18.41" lengthAdjust="spacingAndGlyphs">-1,25,</text>
<text x="792.34" y="694.10" font-size="7.78" fill="#353535" text-anchor="middle" stroke="#353535" stroke-width="0.16" textLength="20.02" lengthAdjust="spacingAndGlyphs">4,53,6</text>
<text x="816.50" y="660.00" font-size="7.78" fill="#353535" text-anchor="middle" stroke="#353535" stroke-width="0.16" textLength="20.81" lengthAdjust="spacingAndGlyphs">27-03-</text>
<text x="816.50" y="669.60" font-size="7.78" fill="#353535" text-anchor="middle" stroke="#353535" stroke-width="0.16" textLength="16.02" lengthAdjust="spacingAndGlyphs">2022</text>
<text x="816.50" y="681.70" font-size="7.78" fill="#353535" text-anchor="middle" stroke="#353535" stroke-width="0.16" textLength="20.42" lengthAdjust="spacingAndGlyphs">-35,01</text>
<text x="816.50" y="694.10" font-size="7.78" fill="#353535" text-anchor="middle" stroke="#353535" stroke-width="0.16" textLength="20.02" lengthAdjust="spacingAndGlyphs">4,18,6</text>
<text x="840.66" y="660.00" font-size="7.78" fill="#353535" text-anchor="middle" stroke="#353535" stroke-width="0.16" textLength="20.81" lengthAdjust="spacingAndGlyphs">03-04-</text>
<text x="840.66" y="669.60" font-size="7.78" fill="#353535" text-anchor="middle" stroke="#353535" stroke-width="0.16" textLength="16.02" lengthAdjust="spacingAndGlyphs">2022</text>
<text x="840.66" y="681.70" font-size="7.78" fill="#353535" text-anchor="middle" stroke="#353535" stroke-width="0.16" textLength="20.42" lengthAdjust="spacingAndGlyphs">-3,746</text>
<text x="840.66" y="694.10" font-size="7.78" fill="#353535" text-anchor="middle" stroke="#353535" stroke-width="0.16" textLength="20.02" lengthAdjust="spacingAndGlyphs">4,14,8</text>
<text x="864.82" y="660.00" font-size="7.78" fill="#353535" text-anchor="middle" stroke="#353535" stroke-width="0.16" textLength="20.81" lengthAdjust="spacingAndGlyphs">10-04-</text>
<text x="864.82" y="669.60" font-size="7.78" fill="#353535" text-anchor="middle" stroke="#353535" stroke-width="0.16" textLength="16.02" lengthAdjust="spacingAndGlyphs">2022</text>
<text x="864.82" y="681.70" font-size="7.78" fill="#353535" text-anchor="middle" stroke="#353535" stroke-width="0.16" textLength="22.02" lengthAdjust="spacingAndGlyphs">25,742</text>
<text x="864.82" y="694.10" font-size="7.78" fill="#353535" text-anchor="middle" stroke="#353535" stroke-width="0.16" textLength="20.02" lengthAdjust="spacingAndGlyphs">4,40,6</text>
<text x="888.98" y="660.00" font-size="7.78" fill="#353535" text-anchor="middle" stroke="#353535" stroke-width="0.16" textLength="20.81" lengthAdjust="spacingAndGlyphs">17-04-</text>
<text x="888.98" y="669.60" font-size="7.78" fill="#353535" text-anchor="middle" stroke="#353535" stroke-width="0.16" textLength="16.02" lengthAdjust="spacingAndGlyphs">2022</text>
<text x="888.98" y="681.70" font-size="7.78" fill="#353535" text-anchor="middle" stroke="#353535" stroke-width="0.16" textLength="20.42" lengthAdjust="spacingAndGlyphs">-29,05</text>
<text x="888.98" y="694.10" font-size="7.78" fill="#353535" text-anchor="middle" stroke="#353535" stroke-width="0.16" textLength="19.48" lengthAdjust="spacingAndGlyphs">4,11,5</text>
<text x="913.14" y="660.00" font-size="7.78" fill="#353535" text-anchor="middle" stroke="#353535" stroke-width="0.16" textLength="20.81" lengthAdjust="spacingAndGlyphs">24-04-</text>
<text x="913.14" y="669.60" font-size="7.78" fill="#353535" text-anchor="middle" stroke="#353535" stroke-width="0.16" textLength="16.02" lengthAdjust="spacingAndGlyphs">2022</text>
<text x="913.14" y="681.70" font-size="7.78" fill="#353535" text-anchor="middle" stroke="#353535" stroke-width="0.16" textLength="20.42" lengthAdjust="spacingAndGlyphs">-60,31</text>
<text x="913.14" y="694.10" font-size="7.78" fill="#353535" text-anchor="middle" stroke="#353535" stroke-width="0.16" textLength="20.02" lengthAdjust="spacingAndGlyphs">3,51,2</text>
<text x="937.30" y="660.00" font-size="7.78" fill="#353535" text-anchor="middle" stroke="#353535" stroke-width="0.16" textLength="20.81" lengthAdjust="spacingAndGlyphs">01-05-</text>
<text x="937.30" y="669.60" font-size="7.78" fill="#353535" text-anchor="middle" stroke="#353535" stroke-width="0.16" textLength="16.02" lengthAdjust="spacingAndGlyphs">2022</text>
<text x="937.30" y="681.70" font-size="7.78" fill="#353535" text-anchor="middle" stroke="#353535" stroke-width="0.16" textLength="20.02" lengthAdjust="spacingAndGlyphs">8,814.</text>
<text x="937.30" y="694.10" font-size="7.78" fill="#353535" text-anchor="middle" stroke="#353535" stroke-width="0.16" textLength="20.02" lengthAdjust="spacingAndGlyphs">3,60,0</text>
<text x="961.46" y="660.00" font-size="7.78" fill="#353535" text-anchor="middle" stroke="#353535" stroke-width="0.16" textLength="20.81" lengthAdjust="spacingAndGlyphs">08-05-</text>
<text x="961.46" y="669.60" font-size="7.78" fill="#353535" text-anchor="middle" stroke="#353535" stroke-width="0.16" textLength="16.02" lengthAdjust="spacingAndGlyphs">2022</text>
<text x="961.46" y="681.70" font-size="7.78" fill="#353535" text-anchor="middle" stroke="#353535" stroke-width="0.16" textLength="20.42" lengthAdjust="spacingAndGlyphs">-59,14</text>
<text x="961.46" y="694.10" font-size="7.78" fill="#353535" text-anchor="middle" stroke="#353535" stroke-width="0.16" textLength="20.02" lengthAdjust="spacingAndGlyphs">3,00,9</text>
<text x="985.62" y="660.00" font-size="7.78" fill="#353535" text-anchor="middle" stroke="#353535" stroke-width="0.16" textLength="20.81" lengthAdjust="spacingAndGlyphs">15-05-</text>
<text x="985.62" y="669.60" font-size="7.78" fill="#353535" text-anchor="middle" stroke="#353535" stroke-width="0.16" textLength="16.02" lengthAdjust="spacingAndGlyphs">2022</text>
<text x="985.62" y="681.70" font-size="7.78" fill="#353535" text-anchor="middle" stroke="#353535" stroke-width="0.16" textLength="22.02" lengthAdjust="spacingAndGlyphs">63,361</text>
<text x="985.62" y="694.10" font-size="7.78" fill="#353535" text-anchor="middle" stroke="#353535" stroke-width="0.16" textLength="20.02" lengthAdjust="spacingAndGlyphs">3,64,2</text>
<text x="1009.78" y="660.00" font-size="7.78" fill="#353535" text-anchor="middle" stroke="#353535" stroke-width="0.16" textLength="20.81" lengthAdjust="spacingAndGlyphs">22-05-</text>
<text x="1009.78" y="669.60" font-size="7.78" fill="#353535" text-anchor="middle" stroke="#353535" stroke-width="0.16" textLength="16.02" lengthAdjust="spacingAndGlyphs">2022</text>
<text x="1009.78" y="681.70" font-size="7.78" fill="#353535" text-anchor="middle" stroke="#353535" stroke-width="0.16" textLength="20.42" lengthAdjust="spacingAndGlyphs">-97,77</text>
<text x="1009.78" y="694.10" font-size="7.78" fill="#353535" text-anchor="middle" stroke="#353535" stroke-width="0.16" textLength="20.02" lengthAdjust="spacingAndGlyphs">2,66,5</text>
<text x="1033.94" y="660.00" font-size="7.78" fill="#353535" text-anchor="middle" stroke="#353535" stroke-width="0.16" textLength="20.81" lengthAdjust="spacingAndGlyphs">29-05-</text>
<text x="1033.94" y="669.60" font-size="7.78" fill="#353535" text-anchor="middle" stroke="#353535" stroke-width="0.16" textLength="16.02" lengthAdjust="spacingAndGlyphs">2022</text>
<text x="1033.94" y="681.70" font-size="7.78" fill="#353535" text-anchor="middle" stroke="#353535" stroke-width="0.16" textLength="18.41" lengthAdjust="spacingAndGlyphs">-1,30,</text>
<text x="1033.94" y="694.10" font-size="7.78" fill="#353535" text-anchor="middle" stroke="#353535" stroke-width="0.16" textLength="20.02" lengthAdjust="spacingAndGlyphs">1,36,1</text>
<text x="1058.10" y="660.00" font-size="7.78" fill="#353535" text-anchor="middle" stroke="#353535" stroke-width="0.16" textLength="20.81" lengthAdjust="spacingAndGlyphs">05-06-</text>
<text x="1058.10" y="669.60" font-size="7.78" fill="#353535" text-anchor="middle" stroke="#353535" stroke-width="0.16" textLength="16.02" lengthAdjust="spacingAndGlyphs">2022</text>
<text x="1058.10" y="681.70" font-size="7.78" fill="#353535" text-anchor="middle" stroke="#353535" stroke-width="0.16" textLength="22.02" lengthAdjust="spacingAndGlyphs">48,383</text>
<text x="1058.10" y="694.10" font-size="7.78" fill="#353535" text-anchor="middle" stroke="#353535" stroke-width="0.16" textLength="20.02" lengthAdjust="spacingAndGlyphs">1,84,4</text>
<text x="1082.26" y="660.00" font-size="7.78" fill="#353535" text-anchor="middle" stroke="#353535" stroke-width="0.16" textLength="20.81" lengthAdjust="spacingAndGlyphs">12-06-</text>
<text x="1082.26" y="669.60" font-size="7.78" fill="#353535" text-anchor="middle" stroke="#353535" stroke-width="0.16" textLength="16.02" lengthAdjust="spacingAndGlyphs">2022</text>
<text x="1082.26" y="681.70" font-size="7.78" fill="#353535" text-anchor="middle" stroke="#353535" stroke-width="0.16" textLength="20.42" lengthAdjust="spacingAndGlyphs">-25,17</text>
<text x="1082.26" y="694.10" font-size="7.78" fill="#353535" text-anchor="middle" stroke="#353535" stroke-width="0.16" textLength="20.02" lengthAdjust="spacingAndGlyphs">1,59,3</text>
<text x="1106.42" y="660.00" font-size="7.78" fill="#353535" text-anchor="middle" stroke="#353535" stroke-width="0.16" textLength="20.81" lengthAdjust="spacingAndGlyphs">19-06-</text>
<text x="1106.42" y="669.60" font-size="7.78" fill="#353535" text-anchor="middle" stroke="#353535" stroke-width="0.16" textLength="16.02" lengthAdjust="spacingAndGlyphs">2022</text>
<text x="1106.42" y="681.70" font-size="7.78" fill="#353535" text-anchor="middle" stroke="#353535" stroke-width="0.16" textLength="22.02" lengthAdjust="spacingAndGlyphs">39,148</text>
<text x="1106.42" y="694.10" font-size="7.78" fill="#353535" text-anchor="middle" stroke="#353535" stroke-width="0.16" textLength="20.02" lengthAdjust="spacingAndGlyphs">1,98,4</text>
<text x="1130.58" y="660.00" font-size="7.78" fill="#353535" text-anchor="middle" stroke="#353535" stroke-width="0.16" textLength="20.81" lengthAdjust="spacingAndGlyphs">26-06-</text>
<text x="1130.58" y="669.60" font-size="7.78" fill="#353535" text-anchor="middle" stroke="#353535" stroke-width="0.16" textLength="16.02" lengthAdjust="spacingAndGlyphs">2022</text>
<text x="1130.58" y="681.70" font-size="7.78" fill="#353535" text-anchor="middle" stroke="#353535" stroke-width="0.16" textLength="20.42" lengthAdjust="spacingAndGlyphs">-51,90</text>
<text x="1130.58" y="694.10" font-size="7.78" fill="#353535" text-anchor="middle" stroke="#353535" stroke-width="0.16" textLength="20.02" lengthAdjust="spacingAndGlyphs">1,46,5</text>
<text x="1154.74" y="660.00" font-size="7.78" fill="#353535" text-anchor="middle" stroke="#353535" stroke-width="0.16" textLength="20.81" lengthAdjust="spacingAndGlyphs">03-07-</text>
<text x="1154.74" y="669.60" font-size="7.78" fill="#353535" text-anchor="middle" stroke="#353535" stroke-width="0.16" textLength="16.02" lengthAdjust="spacingAndGlyphs">2022</text>
<text x="1154.74" y="681.70" font-size="7.78" fill="#353535" text-anchor="middle" stroke="#353535" stroke-width="0.16" textLength="20.42" lengthAdjust="spacingAndGlyphs">-7,507</text>
<text x="1154.74" y="694.10" font-size="7.78" fill="#353535" text-anchor="middle" stroke="#353535" stroke-width="0.16" textLength="20.02" lengthAdjust="spacingAndGlyphs">1,39,0</text>
<text x="1178.90" y="660.00" font-size="7.78" fill="#353535" text-anchor="middle" stroke="#353535" stroke-width="0.16" textLength="20.81" lengthAdjust="spacingAndGlyphs">10-07-</text>
<text x="1178.90" y="669.60" font-size="7.78" fill="#353535" text-anchor="middle" stroke="#353535" stroke-width="0.16" textLength="16.02" lengthAdjust="spacingAndGlyphs">2022</text>
<text x="1178.90" y="681.70" font-size="7.78" fill="#353535" text-anchor="middle" stroke="#353535" stroke-width="0.16" textLength="20.02" lengthAdjust="spacingAndGlyphs">2,28,2</text>
<text x="1178.90" y="694.10" font-size="7.78" fill="#353535" text-anchor="middle" stroke="#353535" stroke-width="0.16" textLength="20.02" lengthAdjust="spacingAndGlyphs">3,67,2</text>
<text x="1203.06" y="660.00" font-size="7.78" fill="#353535" text-anchor="middle" stroke="#353535" stroke-width="0.16" textLength="20.81" lengthAdjust="spacingAndGlyphs">17-07-</text>
<text x="1203.06" y="669.60" font-size="7.78" fill="#353535" text-anchor="middle" stroke="#353535" stroke-width="0.16" textLength="16.02" lengthAdjust="spacingAndGlyphs">2022</text>
<text x="1203.06" y="681.70" font-size="7.78" fill="#353535" text-anchor="middle" stroke="#353535" stroke-width="0.16" textLength="18.41" lengthAdjust="spacingAndGlyphs">-1,86,</text>
<text x="1203.06" y="694.10" font-size="7.78" fill="#353535" text-anchor="middle" stroke="#353535" stroke-width="0.16" textLength="20.02" lengthAdjust="spacingAndGlyphs">1,80,8</text>
<text x="1227.22" y="660.00" font-size="7.78" fill="#353535" text-anchor="middle" stroke="#353535" stroke-width="0.16" textLength="20.81" lengthAdjust="spacingAndGlyphs">24-07-</text>
<text x="1227.22" y="669.60" font-size="7.78" fill="#353535" text-anchor="middle" stroke="#353535" stroke-width="0.16" textLength="16.02" lengthAdjust="spacingAndGlyphs">2022</text>
<text x="1227.22" y="681.70" font-size="7.78" fill="#353535" text-anchor="middle" stroke="#353535" stroke-width="0.16" textLength="20.02" lengthAdjust="spacingAndGlyphs">2,02,3</text>
<text x="1227.22" y="694.10" font-size="7.78" fill="#353535" text-anchor="middle" stroke="#353535" stroke-width="0.16" textLength="20.02" lengthAdjust="spacingAndGlyphs">3,83,1</text>
<text x="1251.38" y="660.00" font-size="7.78" fill="#353535" text-anchor="middle" stroke="#353535" stroke-width="0.16" textLength="20.81" lengthAdjust="spacingAndGlyphs">31-07-</text>
<text x="1251.38" y="669.60" font-size="7.78" fill="#353535" text-anchor="middle" stroke="#353535" stroke-width="0.16" textLength="16.02" lengthAdjust="spacingAndGlyphs">2022</text>
<text x="1251.38" y="681.70" font-size="7.78" fill="#353535" text-anchor="middle" stroke="#353535" stroke-width="0.16" textLength="20.42" lengthAdjust="spacingAndGlyphs">-18,78</text>
<text x="1251.38" y="694.10" font-size="7.78" fill="#353535" text-anchor="middle" stroke="#353535" stroke-width="0.16" textLength="20.02" lengthAdjust="spacingAndGlyphs">3,64,4</text>
<text x="1275.54" y="660.00" font-size="7.78" fill="#353535" text-anchor="middle" stroke="#353535" stroke-width="0.16" textLength="20.81" lengthAdjust="spacingAndGlyphs">07-08-</text>
<text x="1275.54" y="669.60" font-size="7.78" fill="#353535" text-anchor="middle" stroke="#353535" stroke-width="0.16" textLength="16.02" lengthAdjust="spacingAndGlyphs">2022</text>
<text x="1275.54" y="681.70" font-size="7.78" fill="#353535" text-anchor="middle" stroke="#353535" stroke-width="0.16" textLength="20.02" lengthAdjust="spacingAndGlyphs">1,40,2</text>
<text x="1275.54" y="694.10" font-size="7.78" fill="#353535" text-anchor="middle" stroke="#353535" stroke-width="0.16" textLength="20.02" lengthAdjust="spacingAndGlyphs">5,04,6</text>
<text x="1299.70" y="660.00" font-size="7.78" fill="#353535" text-anchor="middle" stroke="#353535" stroke-width="0.16" textLength="20.81" lengthAdjust="spacingAndGlyphs">14-08-</text>
<text x="1299.70" y="669.60" font-size="7.78" fill="#353535" text-anchor="middle" stroke="#353535" stroke-width="0.16" textLength="16.02" lengthAdjust="spacingAndGlyphs">2022</text>
<text x="1299.70" y="681.70" font-size="7.78" fill="#353535" text-anchor="middle" stroke="#353535" stroke-width="0.16" textLength="20.42" lengthAdjust="spacingAndGlyphs">-96,52</text>
<text x="1299.70" y="694.10" font-size="7.78" fill="#353535" text-anchor="middle" stroke="#353535" stroke-width="0.16" textLength="20.02" lengthAdjust="spacingAndGlyphs">4,08,1</text>
<text x="1323.86" y="660.00" font-size="7.78" fill="#353535" text-anchor="middle" stroke="#353535" stroke-width="0.16" textLength="20.81" lengthAdjust="spacingAndGlyphs">21-08-</text>
<text x="1323.86" y="669.60" font-size="7.78" fill="#353535" text-anchor="middle" stroke="#353535" stroke-width="0.16" textLength="16.02" lengthAdjust="spacingAndGlyphs">2022</text>
<text x="1323.86" y="681.70" font-size="7.78" fill="#353535" text-anchor="middle" stroke="#353535" stroke-width="0.16" textLength="20.02" lengthAdjust="spacingAndGlyphs">9,358.</text>
<text x="1323.86" y="694.10" font-size="7.78" fill="#353535" text-anchor="middle" stroke="#353535" stroke-width="0.16" textLength="20.02" lengthAdjust="spacingAndGlyphs">4,17,5</text>
<text x="1348.02" y="660.00" font-size="7.78" fill="#353535" text-anchor="middle" stroke="#353535" stroke-width="0.16" textLength="20.81" lengthAdjust="spacingAndGlyphs">28-08-</text>
<text x="1348.02" y="669.60" font-size="7.78" fill="#353535" text-anchor="middle" stroke="#353535" stroke-width="0.16" textLength="16.02" lengthAdjust="spacingAndGlyphs">2022</text>
<text x="1348.02" y="681.70" font-size="7.78" fill="#353535" text-anchor="middle" stroke="#353535" stroke-width="0.16" textLength="20.42" lengthAdjust="spacingAndGlyphs">-29,77</text>
<text x="1348.02" y="694.10" font-size="7.78" fill="#353535" text-anchor="middle" stroke="#353535" stroke-width="0.16" textLength="20.02" lengthAdjust="spacingAndGlyphs">3,87,7</text>
<text x="1372.18" y="660.00" font-size="7.78" fill="#353535" text-anchor="middle" stroke="#353535" stroke-width="0.16" textLength="20.81" lengthAdjust="spacingAndGlyphs">04-09-</text>
<text x="1372.18" y="669.60" font-size="7.78" fill="#353535" text-anchor="middle" stroke="#353535" stroke-width="0.16" textLength="16.02" lengthAdjust="spacingAndGlyphs">2022</text>
<text x="1372.18" y="681.70" font-size="7.78" fill="#353535" text-anchor="middle" stroke="#353535" stroke-width="0.16" textLength="22.02" lengthAdjust="spacingAndGlyphs">15,071</text>
<text x="1372.18" y="694.10" font-size="7.78" fill="#353535" text-anchor="middle" stroke="#353535" stroke-width="0.16" textLength="20.02" lengthAdjust="spacingAndGlyphs">4,02,8</text>
<text x="526.58" y="446.15" font-size="7.88" fill="#353535" text-anchor="middle" stroke="#353535" stroke-width="0.16" textLength="44.65" lengthAdjust="spacingAndGlyphs">7,56,452.09 €</text>
<text x="550.74" y="418.19" font-size="7.88" fill="#353535" text-anchor="middle" stroke="#353535" stroke-width="0.16" textLength="44.11" lengthAdjust="spacingAndGlyphs">9,20,921.11 €</text>
<text x="574.90" y="421.51" font-size="7.88" fill="#353535" text-anchor="middle" stroke="#353535" stroke-width="0.16" textLength="44.65" lengthAdjust="spacingAndGlyphs">9,01,418.70 €</text>
<text x="599.06" y="440.38" font-size="7.88" fill="#353535" text-anchor="middle" stroke="#353535" stroke-width="0.16" textLength="44.65" lengthAdjust="spacingAndGlyphs">7,90,440.27 €</text>
<text x="623.22" y="448.61" font-size="7.88" fill="#353535" text-anchor="middle" stroke="#353535" stroke-width="0.16" textLength="44.65" lengthAdjust="spacingAndGlyphs">7,42,028.12 €</text>
<text x="647.38" y="458.45" font-size="7.88" fill="#353535" text-anchor="middle" stroke="#353535" stroke-width="0.16" textLength="44.11" lengthAdjust="spacingAndGlyphs">6,84,119.70 €</text>
<text x="671.54" y="469.33" font-size="7.88" fill="#353535" text-anchor="middle" stroke="#353535" stroke-width="0.16" textLength="44.65" lengthAdjust="spacingAndGlyphs">6,20,094.23 €</text>
<text x="695.70" y="464.11" font-size="7.88" fill="#353535" text-anchor="middle" stroke="#353535" stroke-width="0.16" textLength="44.65" lengthAdjust="spacingAndGlyphs">6,50,810.27 €</text>
<text x="719.86" y="502.78" font-size="7.88" fill="#353535" text-anchor="middle" stroke="#353535" stroke-width="0.16" textLength="44.65" lengthAdjust="spacingAndGlyphs">4,23,351.01 €</text>
<text x="744.02" y="484.98" font-size="7.88" fill="#353535" text-anchor="middle" stroke="#353535" stroke-width="0.16" textLength="44.65" lengthAdjust="spacingAndGlyphs">5,28,073.34 €</text>
<text x="768.18" y="476.23" font-size="7.88" fill="#353535" text-anchor="middle" stroke="#353535" stroke-width="0.16" textLength="44.65" lengthAdjust="spacingAndGlyphs">5,79,508.72 €</text>
<text x="792.34" y="497.63" font-size="7.88" fill="#353535" text-anchor="middle" stroke="#353535" stroke-width="0.16" textLength="44.65" lengthAdjust="spacingAndGlyphs">4,53,635.13 €</text>
<text x="816.50" y="503.58" font-size="7.88" fill="#353535" text-anchor="middle" stroke="#353535" stroke-width="0.16" textLength="44.65" lengthAdjust="spacingAndGlyphs">4,18,622.74 €</text>
<text x="840.66" y="504.22" font-size="7.88" fill="#353535" text-anchor="middle" stroke="#353535" stroke-width="0.16" textLength="44.65" lengthAdjust="spacingAndGlyphs">4,14,875.84 €</text>
<text x="864.82" y="499.84" font-size="7.88" fill="#353535" text-anchor="middle" stroke="#353535" stroke-width="0.16" textLength="44.65" lengthAdjust="spacingAndGlyphs">4,40,618.61 €</text>
<text x="888.98" y="504.78" font-size="7.88" fill="#353535" text-anchor="middle" stroke="#353535" stroke-width="0.16" textLength="44.11" lengthAdjust="spacingAndGlyphs">4,11,564.77 €</text>
<text x="913.14" y="515.04" font-size="7.88" fill="#353535" text-anchor="middle" stroke="#353535" stroke-width="0.16" textLength="44.65" lengthAdjust="spacingAndGlyphs">3,51,249.39 €</text>
<text x="937.30" y="513.54" font-size="7.88" fill="#353535" text-anchor="middle" stroke="#353535" stroke-width="0.16" textLength="44.65" lengthAdjust="spacingAndGlyphs">3,60,063.72 €</text>
<text x="961.46" y="523.59" font-size="7.88" fill="#353535" text-anchor="middle" stroke="#353535" stroke-width="0.16" textLength="44.65" lengthAdjust="spacingAndGlyphs">3,00,922.61 €</text>
<text x="985.62" y="512.82" font-size="7.88" fill="#353535" text-anchor="middle" stroke="#353535" stroke-width="0.16" textLength="44.65" lengthAdjust="spacingAndGlyphs">3,64,284.16 €</text>
<text x="1009.78" y="529.44" font-size="7.88" fill="#353535" text-anchor="middle" stroke="#353535" stroke-width="0.16" textLength="44.65" lengthAdjust="spacingAndGlyphs">2,66,513.42 €</text>
<text x="1033.94" y="551.61" font-size="7.88" fill="#353535" text-anchor="middle" stroke="#353535" stroke-width="0.16" textLength="44.65" lengthAdjust="spacingAndGlyphs">1,36,100.16 €</text>
<text x="1058.10" y="543.39" font-size="7.88" fill="#353535" text-anchor="middle" stroke="#353535" stroke-width="0.16" textLength="44.65" lengthAdjust="spacingAndGlyphs">1,84,484.09 €</text>
<text x="1082.26" y="547.67" font-size="7.88" fill="#353535" text-anchor="middle" stroke="#353535" stroke-width="0.16" textLength="44.65" lengthAdjust="spacingAndGlyphs">1,59,304.28 €</text>
<text x="1106.42" y="541.01" font-size="7.88" fill="#353535" text-anchor="middle" stroke="#353535" stroke-width="0.16" textLength="44.65" lengthAdjust="spacingAndGlyphs">1,98,452.51 €</text>
<text x="1130.58" y="549.84" font-size="7.88" fill="#353535" text-anchor="middle" stroke="#353535" stroke-width="0.16" textLength="44.65" lengthAdjust="spacingAndGlyphs">1,46,544.27 €</text>
<text x="1154.74" y="551.11" font-size="7.88" fill="#353535" text-anchor="middle" stroke="#353535" stroke-width="0.16" textLength="44.65" lengthAdjust="spacingAndGlyphs">1,39,036.98 €</text>
<text x="1178.90" y="512.32" font-size="7.88" fill="#353535" text-anchor="middle" stroke="#353535" stroke-width="0.16" textLength="44.65" lengthAdjust="spacingAndGlyphs">3,67,237.91 €</text>
<text x="1203.06" y="544.00" font-size="7.88" fill="#353535" text-anchor="middle" stroke="#353535" stroke-width="0.16" textLength="44.65" lengthAdjust="spacingAndGlyphs">1,80,885.68 €</text>
<text x="1227.22" y="509.61" font-size="7.88" fill="#353535" text-anchor="middle" stroke="#353535" stroke-width="0.16" textLength="44.65" lengthAdjust="spacingAndGlyphs">3,83,195.15 €</text>
<text x="1251.38" y="512.80" font-size="7.88" fill="#353535" text-anchor="middle" stroke="#353535" stroke-width="0.16" textLength="44.65" lengthAdjust="spacingAndGlyphs">3,64,408.41 €</text>
<text x="1275.54" y="488.95" font-size="7.88" fill="#353535" text-anchor="middle" stroke="#353535" stroke-width="0.16" textLength="44.65" lengthAdjust="spacingAndGlyphs">5,04,682.67 €</text>
<text x="1299.70" y="505.36" font-size="7.88" fill="#353535" text-anchor="middle" stroke="#353535" stroke-width="0.16" textLength="44.65" lengthAdjust="spacingAndGlyphs">4,08,162.41 €</text>
<text x="1323.86" y="503.77" font-size="7.88" fill="#353535" text-anchor="middle" stroke="#353535" stroke-width="0.16" textLength="44.65" lengthAdjust="spacingAndGlyphs">4,17,520.95 €</text>
<text x="1348.02" y="508.83" font-size="7.88" fill="#353535" text-anchor="middle" stroke="#353535" stroke-width="0.16" textLength="44.65" lengthAdjust="spacingAndGlyphs">3,87,750.00 €</text>
<text x="1372.18" y="506.27" font-size="7.88" fill="#353535" text-anchor="middle" stroke="#353535" stroke-width="0.16" textLength="44.65" lengthAdjust="spacingAndGlyphs">4,02,821.10 €</text>
<text x="1396.34" y="574.75" font-size="7.88" fill="#353535" text-anchor="middle" stroke="#353535" stroke-width="0.16" textLength="20.30" lengthAdjust="spacingAndGlyphs">0.00 €</text>
<text x="1420.50" y="574.75" font-size="7.88" fill="#353535" text-anchor="middle" stroke="#353535" stroke-width="0.16" textLength="20.30" lengthAdjust="spacingAndGlyphs">0.00 €</text>
<text x="1444.66" y="574.75" font-size="7.88" fill="#353535" text-anchor="middle" stroke="#353535" stroke-width="0.16" textLength="20.30" lengthAdjust="spacingAndGlyphs">0.00 €</text>
<text x="1468.82" y="574.75" font-size="7.88" fill="#353535" text-anchor="middle" stroke="#353535" stroke-width="0.16" textLength="20.30" lengthAdjust="spacingAndGlyphs">0.00 €</text>
<text x="1492.98" y="574.75" font-size="7.88" fill="#353535" text-anchor="middle" stroke="#353535" stroke-width="0.16" textLength="20.30" lengthAdjust="spacingAndGlyphs">0.00 €</text>
<text x="550.74" y="548.86" font-size="7.88" fill="#353535" text-anchor="middle" stroke="#353535" stroke-width="0.16" textLength="44.65" lengthAdjust="spacingAndGlyphs">1,64,469.02 €</text>
<text x="574.90" y="598.10" font-size="7.88" fill="#353535" text-anchor="middle" stroke="#353535" stroke-width="0.16" textLength="40.99" lengthAdjust="spacingAndGlyphs">-19,502.41 €</text>
<text x="599.06" y="613.59" font-size="7.88" fill="#353535" text-anchor="middle" stroke="#353535" stroke-width="0.16" textLength="47.08" lengthAdjust="spacingAndGlyphs">-1,10,978.43 €</text>
<text x="623.22" y="603.00" font-size="7.88" fill="#353535" text-anchor="middle" stroke="#353535" stroke-width="0.16" textLength="40.99" lengthAdjust="spacingAndGlyphs">-48,412.15 €</text>
<text x="647.38" y="604.60" font-size="7.88" fill="#353535" text-anchor="middle" stroke="#353535" stroke-width="0.16" textLength="40.99" lengthAdjust="spacingAndGlyphs">-57,908.42 €</text>
<text x="671.54" y="605.64" font-size="7.88" fill="#353535" text-anchor="middle" stroke="#353535" stroke-width="0.16" textLength="40.99" lengthAdjust="spacingAndGlyphs">-64,025.47 €</text>
<text x="695.70" y="571.50" font-size="7.88" fill="#353535" text-anchor="middle" stroke="#353535" stroke-width="0.16" textLength="38.56" lengthAdjust="spacingAndGlyphs">30,716.04 €</text>
<text x="719.86" y="633.31" font-size="7.88" fill="#353535" text-anchor="middle" stroke="#353535" stroke-width="0.16" textLength="47.08" lengthAdjust="spacingAndGlyphs">-2,27,459.26 €</text>
<text x="744.02" y="558.97" font-size="7.88" fill="#353535" text-anchor="middle" stroke="#353535" stroke-width="0.16" textLength="44.65" lengthAdjust="spacingAndGlyphs">1,04,722.33 €</text>
<text x="768.18" y="567.99" font-size="7.88" fill="#353535" text-anchor="middle" stroke="#353535" stroke-width="0.16" textLength="38.56" lengthAdjust="spacingAndGlyphs">51,435.38 €</text>
<text x="792.34" y="616.11" font-size="7.88" fill="#353535" text-anchor="middle" stroke="#353535" stroke-width="0.16" textLength="47.08" lengthAdjust="spacingAndGlyphs">-1,25,873.59 €</text>
<text x="816.50" y="600.73" font-size="7.88" fill="#353535" text-anchor="middle" stroke="#353535" stroke-width="0.16" textLength="40.99" lengthAdjust="spacingAndGlyphs">-35,012.39 €</text>
<text x="840.66" y="595.43" font-size="7.88" fill="#353535" text-anchor="middle" stroke="#353535" stroke-width="0.16" textLength="36.94" lengthAdjust="spacingAndGlyphs">-3,746.90 €</text>
<text x="864.82" y="572.34" font-size="7.88" fill="#353535" text-anchor="middle" stroke="#353535" stroke-width="0.16" textLength="38.56" lengthAdjust="spacingAndGlyphs">25,742.77 €</text>
<text x="888.98" y="599.72" font-size="7.88" fill="#353535" text-anchor="middle" stroke="#353535" stroke-width="0.16" textLength="40.99" lengthAdjust="spacingAndGlyphs">-29,053.84 €</text>
<text x="913.14" y="605.01" font-size="7.88" fill="#353535" text-anchor="middle" stroke="#353535" stroke-width="0.16" textLength="40.99" lengthAdjust="spacingAndGlyphs">-60,315.38 €</text>
<text x="937.30" y="575.21" font-size="7.88" fill="#353535" text-anchor="middle" stroke="#353535" stroke-width="0.16" textLength="34.50" lengthAdjust="spacingAndGlyphs">8,814.33 €</text>
<text x="961.46" y="604.81" font-size="7.88" fill="#353535" text-anchor="middle" stroke="#353535" stroke-width="0.16" textLength="40.45" lengthAdjust="spacingAndGlyphs">-59,141.11 €</text>
<text x="985.62" y="565.97" font-size="7.88" fill="#353535" text-anchor="middle" stroke="#353535" stroke-width="0.16" textLength="38.56" lengthAdjust="spacingAndGlyphs">63,361.55 €</text>
<text x="1009.78" y="611.35" font-size="7.88" fill="#353535" text-anchor="middle" stroke="#353535" stroke-width="0.16" textLength="40.99" lengthAdjust="spacingAndGlyphs">-97,770.74 €</text>
<text x="1033.94" y="616.88" font-size="7.88" fill="#353535" text-anchor="middle" stroke="#353535" stroke-width="0.16" textLength="47.08" lengthAdjust="spacingAndGlyphs">-1,30,413.26 €</text>
<text x="1058.10" y="568.51" font-size="7.88" fill="#353535" text-anchor="middle" stroke="#353535" stroke-width="0.16" textLength="38.56" lengthAdjust="spacingAndGlyphs">48,383.93 €</text>
<text x="1082.26" y="599.06" font-size="7.88" fill="#353535" text-anchor="middle" stroke="#353535" stroke-width="0.16" textLength="40.99" lengthAdjust="spacingAndGlyphs">-25,179.81 €</text>
<text x="1106.42" y="570.07" font-size="7.88" fill="#353535" text-anchor="middle" stroke="#353535" stroke-width="0.16" textLength="38.56" lengthAdjust="spacingAndGlyphs">39,148.23 €</text>
<text x="1130.58" y="603.59" font-size="7.88" fill="#353535" text-anchor="middle" stroke="#353535" stroke-width="0.16" textLength="40.99" lengthAdjust="spacingAndGlyphs">-51,908.24 €</text>
<text x="1154.74" y="596.07" font-size="7.88" fill="#353535" text-anchor="middle" stroke="#353535" stroke-width="0.16" textLength="36.94" lengthAdjust="spacingAndGlyphs">-7,507.29 €</text>
<text x="1178.90" y="538.07" font-size="7.88" fill="#353535" text-anchor="middle" stroke="#353535" stroke-width="0.16" textLength="44.65" lengthAdjust="spacingAndGlyphs">2,28,200.93 €</text>
<text x="1203.06" y="626.35" font-size="7.88" fill="#353535" text-anchor="middle" stroke="#353535" stroke-width="0.16" textLength="47.08" lengthAdjust="spacingAndGlyphs">-1,86,352.23 €</text>
<text x="1227.22" y="542.45" font-size="7.88" fill="#353535" text-anchor="middle" stroke="#353535" stroke-width="0.16" textLength="44.65" lengthAdjust="spacingAndGlyphs">2,02,309.47 €</text>
<text x="1251.38" y="597.98" font-size="7.88" fill="#353535" text-anchor="middle" stroke="#353535" stroke-width="0.16" textLength="40.99" lengthAdjust="spacingAndGlyphs">-18,786.74 €</text>
<text x="1275.54" y="552.95" font-size="7.88" fill="#353535" text-anchor="middle" stroke="#353535" stroke-width="0.16" textLength="44.65" lengthAdjust="spacingAndGlyphs">1,40,274.26 €</text>
<text x="1299.70" y="611.14" font-size="7.88" fill="#353535" text-anchor="middle" stroke="#353535" stroke-width="0.16" textLength="40.99" lengthAdjust="spacingAndGlyphs">-96,520.26 €</text>
<text x="1323.86" y="575.12" font-size="7.88" fill="#353535" text-anchor="middle" stroke="#353535" stroke-width="0.16" textLength="34.50" lengthAdjust="spacingAndGlyphs">9,358.54 €</text>
<text x="1348.02" y="599.84" font-size="7.88" fill="#353535" text-anchor="middle" stroke="#353535" stroke-width="0.16" textLength="40.99" lengthAdjust="spacingAndGlyphs">-29,770.95 €</text>
<text x="1372.18" y="574.15" font-size="7.88" fill="#353535" text-anchor="middle" stroke="#353535" stroke-width="0.16" textLength="38.56" lengthAdjust="spacingAndGlyphs">15,071.10 €</text>
<rect x="426.40" y="677.00" width="17.50" height="4.60" fill="#ed7d31"/>
<text x="446.00" y="681.70" font-size="7.78" fill="#353535" text-anchor="start" stroke="#353535" stroke-width="0.16" textLength="65.23" lengthAdjust="spacingAndGlyphs">Bewertung Zuwachs</text>
<line x1="426.00" y1="692.20" x2="444.30" y2="692.20" stroke="#3f83c9" stroke-width="2.00"/>
<circle cx="435.2" cy="692.2" r="1.9" fill="#3f83c9"/>
<text x="446.00" y="694.10" font-size="7.78" fill="#353535" text-anchor="start" stroke="#353535" stroke-width="0.16" textLength="61.63" lengthAdjust="spacingAndGlyphs">Bewertung Gesamt</text>
<text x="1025.60" y="399.30" font-size="10.40" fill="#4a4a4a" text-anchor="start" font-weight="bold" stroke="#4a4a4a" stroke-width="0.15" textLength="113.80" lengthAdjust="spacingAndGlyphs">Diagramm Bewertung</text>
<line x1="0.00" y1="151.40" x2="1486.00" y2="151.40" stroke="#c6c6c6" stroke-width="1.80"/>
<line x1="0.00" y1="137.50" x2="1486.00" y2="137.50" stroke="#3a3a3a" stroke-width="1.30"/>
<path d="M546.2,137.3 L546.2,62 C546.2,42 560,28.3 582,28.3 L648,28.3 C668,28.3 682,46 682,69 C682,92 666,110.3 645,110.3 L585,110.3 C566,111 551,123 546.2,137.3 Z" fill="#2b4b4b"/>
<circle cx="662.3" cy="33.8" r="10.6" fill="none" stroke="#1f2f30" stroke-width="1.4"/>
<circle cx="675" cy="15" r="2.8" fill="none" stroke="#1f2f30" stroke-width="1.3"/>
<circle cx="686.4" cy="22.7" r="4.9" fill="none" stroke="#1f2f30" stroke-width="1.3"/>
<circle cx="668.5" cy="51.3" r="2.0" fill="none" stroke="#1a2526" stroke-width="1.2"/>
<text x="568.20" y="54.40" font-size="16.40" fill="#ffffff" text-anchor="start" font-weight="bold" textLength="75.90" lengthAdjust="spacingAndGlyphs">Sales per</text>
<text x="568.20" y="74.00" font-size="16.40" fill="#ffffff" text-anchor="start" font-weight="bold" textLength="93.00" lengthAdjust="spacingAndGlyphs">Week using</text>
<text x="568.20" y="93.60" font-size="16.40" fill="#ffffff" text-anchor="start" font-weight="bold" textLength="50.60" lengthAdjust="spacingAndGlyphs">Graph</text>
</svg>
</body></html>
